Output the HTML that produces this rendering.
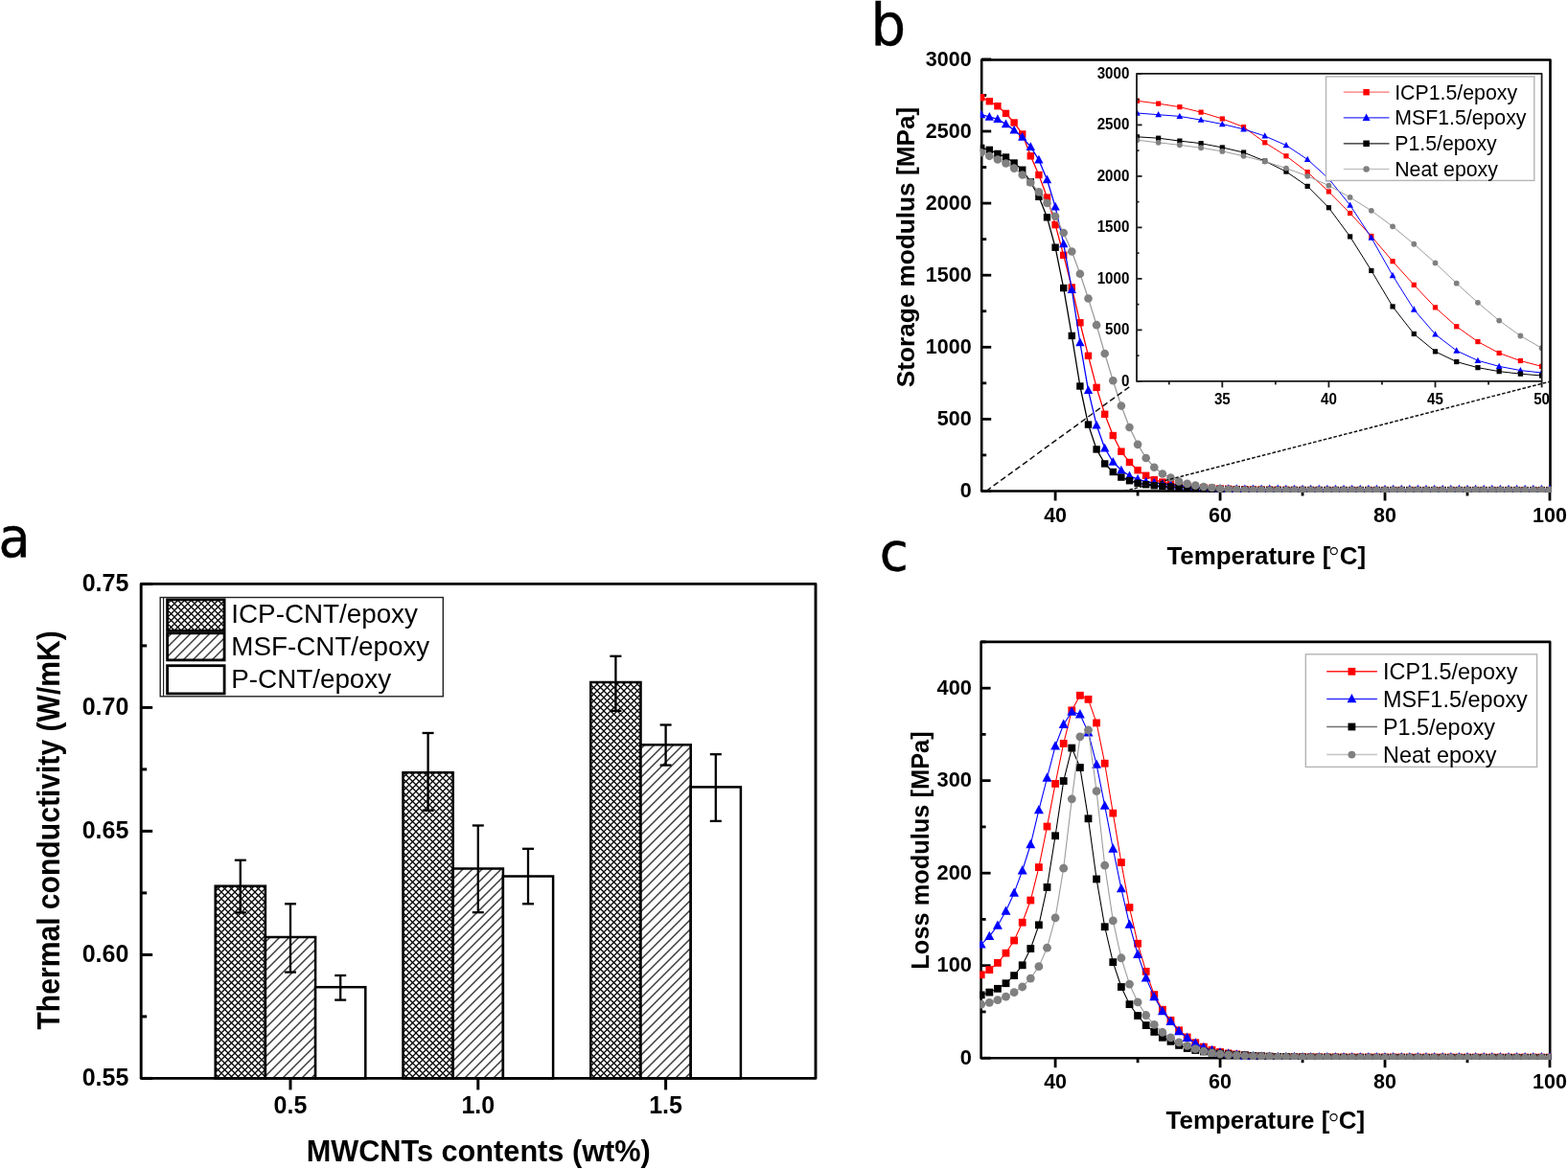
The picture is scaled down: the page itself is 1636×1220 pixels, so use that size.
<!DOCTYPE html><html><head><meta charset="utf-8"><title>Figure</title>
<style>html,body{margin:0;padding:0;background:#fff;}svg{display:block;}text{font-family:"Liberation Sans",Arial,sans-serif;}</style></head><body>
<svg width="1636" height="1220" viewBox="0 0 1636 1220">
<defs>
<pattern id="xh" patternUnits="userSpaceOnUse" width="7" height="7"><rect width="7" height="7" fill="#fff"/><path d="M-1,8 L8,-1 M-1,1 L1,-1 M6,8 L8,6" stroke="#000" stroke-width="1.25"/><path d="M-1,-1 L8,8 M-1,6 L1,8 M6,-1 L8,1" stroke="#000" stroke-width="1.25"/></pattern>
<pattern id="dh" patternUnits="userSpaceOnUse" width="10" height="10"><rect width="10" height="10" fill="#fff"/><path d="M-1,11 L11,-1 M-1,1 L1,-1 M9,11 L11,9" stroke="#3a3a3a" stroke-width="1.45"/></pattern>
<clipPath id="cpb"><rect x="1022.8" y="0" width="596.1" height="513.9"/></clipPath>
<clipPath id="cpi"><rect x="1185.1" y="60" width="423.5" height="338.8"/></clipPath>
<clipPath id="cpc"><rect x="1022.2" y="600" width="596.4" height="506"/></clipPath>
</defs>
<rect width="1636" height="1220" fill="#fff"/>
<text x="0" y="0" font-size="57.6" font-weight="normal" fill="#000" stroke="#000" stroke-width="0.5" transform="translate(-1.6,581.4) scale(0.94,1)" style="font-family:'DejaVu Sans',sans-serif">a</text>
<rect x="224.7" y="924.7" width="52.2" height="200.7" fill="url(#xh)" stroke="#000" stroke-width="2.5"/>
<rect x="276.9" y="978" width="52.2" height="147.4" fill="url(#dh)" stroke="#000" stroke-width="2.5"/>
<rect x="329.1" y="1030.2" width="52.2" height="95.2" fill="#fff" stroke="#000" stroke-width="2.5"/>
<rect x="420.5" y="806.2" width="52.2" height="319.2" fill="url(#xh)" stroke="#000" stroke-width="2.5"/>
<rect x="472.7" y="906.5" width="52.2" height="218.9" fill="url(#dh)" stroke="#000" stroke-width="2.5"/>
<rect x="524.9" y="914.5" width="52.2" height="210.9" fill="#fff" stroke="#000" stroke-width="2.5"/>
<rect x="616.3" y="712" width="52.2" height="413.4" fill="url(#xh)" stroke="#000" stroke-width="2.5"/>
<rect x="668.5" y="777.3" width="52.2" height="348.1" fill="url(#dh)" stroke="#000" stroke-width="2.5"/>
<rect x="720.7" y="821.4" width="52.2" height="304" fill="#fff" stroke="#000" stroke-width="2.5"/>
<line x1="250.8" y1="897.7" x2="250.8" y2="952.4" stroke="#000" stroke-width="2.3" />
<line x1="244.8" y1="897.7" x2="256.8" y2="897.7" stroke="#000" stroke-width="2.3" />
<line x1="244.8" y1="952.4" x2="256.8" y2="952.4" stroke="#000" stroke-width="2.3" />
<line x1="303" y1="943.3" x2="303" y2="1014.6" stroke="#000" stroke-width="2.3" />
<line x1="297" y1="943.3" x2="309" y2="943.3" stroke="#000" stroke-width="2.3" />
<line x1="297" y1="1014.6" x2="309" y2="1014.6" stroke="#000" stroke-width="2.3" />
<line x1="355.2" y1="1018" x2="355.2" y2="1043.6" stroke="#000" stroke-width="2.3" />
<line x1="349.2" y1="1018" x2="361.2" y2="1018" stroke="#000" stroke-width="2.3" />
<line x1="349.2" y1="1043.6" x2="361.2" y2="1043.6" stroke="#000" stroke-width="2.3" />
<line x1="446.6" y1="765" x2="446.6" y2="845.8" stroke="#000" stroke-width="2.3" />
<line x1="440.6" y1="765" x2="452.6" y2="765" stroke="#000" stroke-width="2.3" />
<line x1="440.6" y1="845.8" x2="452.6" y2="845.8" stroke="#000" stroke-width="2.3" />
<line x1="498.8" y1="861.5" x2="498.8" y2="952.2" stroke="#000" stroke-width="2.3" />
<line x1="492.8" y1="861.5" x2="504.8" y2="861.5" stroke="#000" stroke-width="2.3" />
<line x1="492.8" y1="952.2" x2="504.8" y2="952.2" stroke="#000" stroke-width="2.3" />
<line x1="551" y1="885.8" x2="551" y2="943.3" stroke="#000" stroke-width="2.3" />
<line x1="545" y1="885.8" x2="557" y2="885.8" stroke="#000" stroke-width="2.3" />
<line x1="545" y1="943.3" x2="557" y2="943.3" stroke="#000" stroke-width="2.3" />
<line x1="642.4" y1="684.8" x2="642.4" y2="741.9" stroke="#000" stroke-width="2.3" />
<line x1="636.4" y1="684.8" x2="648.4" y2="684.8" stroke="#000" stroke-width="2.3" />
<line x1="636.4" y1="741.9" x2="648.4" y2="741.9" stroke="#000" stroke-width="2.3" />
<line x1="694.6" y1="756.5" x2="694.6" y2="798.6" stroke="#000" stroke-width="2.3" />
<line x1="688.6" y1="756.5" x2="700.6" y2="756.5" stroke="#000" stroke-width="2.3" />
<line x1="688.6" y1="798.6" x2="700.6" y2="798.6" stroke="#000" stroke-width="2.3" />
<line x1="746.8" y1="787.2" x2="746.8" y2="856.9" stroke="#000" stroke-width="2.3" />
<line x1="740.8" y1="787.2" x2="752.8" y2="787.2" stroke="#000" stroke-width="2.3" />
<line x1="740.8" y1="856.9" x2="752.8" y2="856.9" stroke="#000" stroke-width="2.3" />
<rect x="147.2" y="609.4" width="703.8" height="516" fill="none" stroke="#000" stroke-width="2.9" stroke-linejoin="round"/>
<line x1="147.2" y1="1125.4" x2="159.2" y2="1125.4" stroke="#000" stroke-width="3" />
<text x="134.3" y="1133" font-size="25" font-weight="bold" text-anchor="end" fill="#000" >0.55</text>
<line x1="147.2" y1="996.4" x2="159.2" y2="996.4" stroke="#000" stroke-width="3" />
<text x="134.3" y="1004" font-size="25" font-weight="bold" text-anchor="end" fill="#000" >0.60</text>
<line x1="147.2" y1="867.4" x2="159.2" y2="867.4" stroke="#000" stroke-width="3" />
<text x="134.3" y="875" font-size="25" font-weight="bold" text-anchor="end" fill="#000" >0.65</text>
<line x1="147.2" y1="738.4" x2="159.2" y2="738.4" stroke="#000" stroke-width="3" />
<text x="134.3" y="746" font-size="25" font-weight="bold" text-anchor="end" fill="#000" >0.70</text>
<line x1="147.2" y1="609.4" x2="159.2" y2="609.4" stroke="#000" stroke-width="3" />
<text x="134.3" y="617" font-size="25" font-weight="bold" text-anchor="end" fill="#000" >0.75</text>
<line x1="147.2" y1="1060.9" x2="153.2" y2="1060.9" stroke="#000" stroke-width="3" />
<line x1="147.2" y1="931.9" x2="153.2" y2="931.9" stroke="#000" stroke-width="3" />
<line x1="147.2" y1="802.9" x2="153.2" y2="802.9" stroke="#000" stroke-width="3" />
<line x1="147.2" y1="673.9" x2="153.2" y2="673.9" stroke="#000" stroke-width="3" />
<line x1="303" y1="1125.4" x2="303" y2="1137.4" stroke="#000" stroke-width="3" />
<text x="303" y="1162.2" font-size="25" font-weight="bold" text-anchor="middle" fill="#000" >0.5</text>
<line x1="498.8" y1="1125.4" x2="498.8" y2="1137.4" stroke="#000" stroke-width="3" />
<text x="498.8" y="1162.2" font-size="25" font-weight="bold" text-anchor="middle" fill="#000" >1.0</text>
<line x1="694.6" y1="1125.4" x2="694.6" y2="1137.4" stroke="#000" stroke-width="3" />
<text x="694.6" y="1162.2" font-size="25" font-weight="bold" text-anchor="middle" fill="#000" >1.5</text>
<text x="499.2" y="1212.2" font-size="30.7" font-weight="bold" text-anchor="middle" fill="#000" >MWCNTs contents (wt%)</text>
<text x="0" y="0" font-size="32.5" font-weight="bold" text-anchor="middle" textLength="416.4" lengthAdjust="spacingAndGlyphs" transform="translate(61.6,866.4) rotate(-90)">Thermal conductivity (W/mK)</text>
<rect x="167.2" y="623.5" width="295.1" height="103.3" fill="#fff" stroke="#222" stroke-width="1.4"/>
<line x1="170.6" y1="624" x2="170.6" y2="726.5" stroke="#222" stroke-width="1.2" />
<rect x="174.6" y="625.8" width="59.5" height="32.5" fill="url(#xh)" stroke="#000" stroke-width="2.8"/>
<rect x="174.6" y="660.8" width="59.5" height="28.1" fill="url(#dh)" stroke="#000" stroke-width="2.8"/>
<rect x="174.6" y="694.7" width="59.5" height="29.2" fill="#fff" stroke="#000" stroke-width="2.8"/>
<text x="241.3" y="650" font-size="27.8" font-weight="normal" text-anchor="start" fill="#000" >ICP-CNT/epoxy</text>
<text x="241.3" y="683.5" font-size="27.8" font-weight="normal" text-anchor="start" fill="#000" >MSF-CNT/epoxy</text>
<text x="241.3" y="718.3" font-size="27.8" font-weight="normal" text-anchor="start" fill="#000" >P-CNT/epoxy</text>
<text x="0" y="0" font-size="61" font-weight="normal" fill="#000" stroke="#000" stroke-width="0.5" transform="translate(908.6,47.0) scale(0.945,1)" style="font-family:'DejaVu Sans',sans-serif">b</text>
<rect x="1024.2" y="62.5" width="593.3" height="450" fill="none" stroke="#000" stroke-width="2.6" stroke-linejoin="round"/>
<line x1="1024.2" y1="512.5" x2="1034.2" y2="512.5" stroke="#000" stroke-width="2.8" />
<text x="1013.7" y="519.1" font-size="21.5" font-weight="bold" text-anchor="end" fill="#000" >0</text>
<line x1="1024.2" y1="437.4" x2="1034.2" y2="437.4" stroke="#000" stroke-width="2.8" />
<text x="1013.7" y="444" font-size="21.5" font-weight="bold" text-anchor="end" fill="#000" >500</text>
<line x1="1024.2" y1="362.3" x2="1034.2" y2="362.3" stroke="#000" stroke-width="2.8" />
<text x="1013.7" y="368.9" font-size="21.5" font-weight="bold" text-anchor="end" fill="#000" >1000</text>
<line x1="1024.2" y1="287.2" x2="1034.2" y2="287.2" stroke="#000" stroke-width="2.8" />
<text x="1013.7" y="293.8" font-size="21.5" font-weight="bold" text-anchor="end" fill="#000" >1500</text>
<line x1="1024.2" y1="212.1" x2="1034.2" y2="212.1" stroke="#000" stroke-width="2.8" />
<text x="1013.7" y="218.7" font-size="21.5" font-weight="bold" text-anchor="end" fill="#000" >2000</text>
<line x1="1024.2" y1="137" x2="1034.2" y2="137" stroke="#000" stroke-width="2.8" />
<text x="1013.7" y="143.6" font-size="21.5" font-weight="bold" text-anchor="end" fill="#000" >2500</text>
<line x1="1024.2" y1="61.9" x2="1034.2" y2="61.9" stroke="#000" stroke-width="2.8" />
<text x="1013.7" y="68.5" font-size="21.5" font-weight="bold" text-anchor="end" fill="#000" >3000</text>
<line x1="1024.2" y1="474.95" x2="1029.2" y2="474.95" stroke="#000" stroke-width="2.8" />
<line x1="1024.2" y1="399.85" x2="1029.2" y2="399.85" stroke="#000" stroke-width="2.8" />
<line x1="1024.2" y1="324.75" x2="1029.2" y2="324.75" stroke="#000" stroke-width="2.8" />
<line x1="1024.2" y1="249.65" x2="1029.2" y2="249.65" stroke="#000" stroke-width="2.8" />
<line x1="1024.2" y1="174.55" x2="1029.2" y2="174.55" stroke="#000" stroke-width="2.8" />
<line x1="1024.2" y1="99.45" x2="1029.2" y2="99.45" stroke="#000" stroke-width="2.8" />
<line x1="1101.1" y1="512.5" x2="1101.1" y2="522.5" stroke="#000" stroke-width="2.8" />
<text x="1101.1" y="545.2" font-size="21.5" font-weight="bold" text-anchor="middle" fill="#000" >40</text>
<line x1="1273.06" y1="512.5" x2="1273.06" y2="522.5" stroke="#000" stroke-width="2.8" />
<text x="1273.06" y="545.2" font-size="21.5" font-weight="bold" text-anchor="middle" fill="#000" >60</text>
<line x1="1445.02" y1="512.5" x2="1445.02" y2="522.5" stroke="#000" stroke-width="2.8" />
<text x="1445.02" y="545.2" font-size="21.5" font-weight="bold" text-anchor="middle" fill="#000" >80</text>
<line x1="1616.98" y1="512.5" x2="1616.98" y2="522.5" stroke="#000" stroke-width="2.8" />
<text x="1616.98" y="545.2" font-size="21.5" font-weight="bold" text-anchor="middle" fill="#000" >100</text>
<line x1="1187.08" y1="512.5" x2="1187.08" y2="517.5" stroke="#000" stroke-width="2.8" />
<line x1="1359.04" y1="512.5" x2="1359.04" y2="517.5" stroke="#000" stroke-width="2.8" />
<line x1="1531" y1="512.5" x2="1531" y2="517.5" stroke="#000" stroke-width="2.8" />
<g clip-path="url(#cpb)">
<polyline points="1023.72,101.7 1032.32,105.76 1040.91,110.71 1049.51,118.38 1058.11,127.99 1066.71,140 1075.31,162.83 1083.9,182.51 1092.5,206.09 1101.1,234.63 1109.7,266.32 1118.3,299.97 1126.89,336.77 1135.49,371.31 1144.09,404.36 1152.69,432.29 1161.29,454.52 1169.88,471.19 1178.48,482.46 1187.08,490.72 1195.68,496.28 1204.28,500.63 1212.87,503.04 1221.47,504.84 1230.07,506.19 1238.67,507.09 1247.27,507.99 1255.86,508.75 1264.46,509.35 1273.06,509.8 1281.66,510.27 1290.26,510.61 1298.85,510.85 1307.45,511.03 1316.05,511.16 1324.65,511.25 1333.25,511.31 1341.84,511.36 1350.44,511.4 1359.04,511.43 1367.64,511.45 1376.24,511.46 1384.83,511.48 1393.43,511.49 1402.03,511.49 1410.63,511.5 1419.23,511.51 1427.82,511.51 1436.42,511.52 1445.02,511.52 1453.62,511.53 1462.22,511.53 1470.81,511.53 1479.41,511.54 1488.01,511.54 1496.61,511.55 1505.21,511.55 1513.8,511.55 1522.4,511.56 1531,511.56 1539.6,511.56 1548.2,511.57 1556.79,511.57 1565.39,511.58 1573.99,511.58 1582.59,511.58 1591.19,511.59 1599.78,511.59 1608.38,511.6 1616.98,511.6" fill="none" stroke="#ff0000" stroke-width="1.3" stroke-linejoin="round"/>
<rect x="1020.02" y="98" width="7.4" height="7.4" fill="#ff0000"/>
<rect x="1028.62" y="102.06" width="7.4" height="7.4" fill="#ff0000"/>
<rect x="1037.21" y="107.01" width="7.4" height="7.4" fill="#ff0000"/>
<rect x="1045.81" y="114.68" width="7.4" height="7.4" fill="#ff0000"/>
<rect x="1054.41" y="124.29" width="7.4" height="7.4" fill="#ff0000"/>
<rect x="1063.01" y="136.3" width="7.4" height="7.4" fill="#ff0000"/>
<rect x="1071.61" y="159.13" width="7.4" height="7.4" fill="#ff0000"/>
<rect x="1080.2" y="178.81" width="7.4" height="7.4" fill="#ff0000"/>
<rect x="1088.8" y="202.39" width="7.4" height="7.4" fill="#ff0000"/>
<rect x="1097.4" y="230.93" width="7.4" height="7.4" fill="#ff0000"/>
<rect x="1106" y="262.62" width="7.4" height="7.4" fill="#ff0000"/>
<rect x="1114.6" y="296.27" width="7.4" height="7.4" fill="#ff0000"/>
<rect x="1123.19" y="333.07" width="7.4" height="7.4" fill="#ff0000"/>
<rect x="1131.79" y="367.61" width="7.4" height="7.4" fill="#ff0000"/>
<rect x="1140.39" y="400.66" width="7.4" height="7.4" fill="#ff0000"/>
<rect x="1148.99" y="428.59" width="7.4" height="7.4" fill="#ff0000"/>
<rect x="1157.59" y="450.82" width="7.4" height="7.4" fill="#ff0000"/>
<rect x="1166.18" y="467.5" width="7.4" height="7.4" fill="#ff0000"/>
<rect x="1174.78" y="478.76" width="7.4" height="7.4" fill="#ff0000"/>
<rect x="1183.38" y="487.02" width="7.4" height="7.4" fill="#ff0000"/>
<rect x="1191.98" y="492.58" width="7.4" height="7.4" fill="#ff0000"/>
<rect x="1200.58" y="496.93" width="7.4" height="7.4" fill="#ff0000"/>
<rect x="1209.17" y="499.34" width="7.4" height="7.4" fill="#ff0000"/>
<rect x="1217.77" y="501.14" width="7.4" height="7.4" fill="#ff0000"/>
<rect x="1226.37" y="502.49" width="7.4" height="7.4" fill="#ff0000"/>
<rect x="1234.97" y="503.39" width="7.4" height="7.4" fill="#ff0000"/>
<rect x="1243.57" y="504.29" width="7.4" height="7.4" fill="#ff0000"/>
<rect x="1252.16" y="505.05" width="7.4" height="7.4" fill="#ff0000"/>
<rect x="1260.76" y="505.65" width="7.4" height="7.4" fill="#ff0000"/>
<rect x="1269.36" y="506.1" width="7.4" height="7.4" fill="#ff0000"/>
<rect x="1277.96" y="506.57" width="7.4" height="7.4" fill="#ff0000"/>
<rect x="1286.56" y="506.91" width="7.4" height="7.4" fill="#ff0000"/>
<rect x="1295.15" y="507.15" width="7.4" height="7.4" fill="#ff0000"/>
<rect x="1303.75" y="507.33" width="7.4" height="7.4" fill="#ff0000"/>
<rect x="1312.35" y="507.46" width="7.4" height="7.4" fill="#ff0000"/>
<rect x="1320.95" y="507.55" width="7.4" height="7.4" fill="#ff0000"/>
<rect x="1329.55" y="507.61" width="7.4" height="7.4" fill="#ff0000"/>
<rect x="1338.14" y="507.66" width="7.4" height="7.4" fill="#ff0000"/>
<rect x="1346.74" y="507.7" width="7.4" height="7.4" fill="#ff0000"/>
<rect x="1355.34" y="507.73" width="7.4" height="7.4" fill="#ff0000"/>
<rect x="1363.94" y="507.75" width="7.4" height="7.4" fill="#ff0000"/>
<rect x="1372.54" y="507.76" width="7.4" height="7.4" fill="#ff0000"/>
<rect x="1381.13" y="507.78" width="7.4" height="7.4" fill="#ff0000"/>
<rect x="1389.73" y="507.79" width="7.4" height="7.4" fill="#ff0000"/>
<rect x="1398.33" y="507.79" width="7.4" height="7.4" fill="#ff0000"/>
<rect x="1406.93" y="507.8" width="7.4" height="7.4" fill="#ff0000"/>
<rect x="1415.53" y="507.81" width="7.4" height="7.4" fill="#ff0000"/>
<rect x="1424.12" y="507.81" width="7.4" height="7.4" fill="#ff0000"/>
<rect x="1432.72" y="507.82" width="7.4" height="7.4" fill="#ff0000"/>
<rect x="1441.32" y="507.82" width="7.4" height="7.4" fill="#ff0000"/>
<rect x="1449.92" y="507.83" width="7.4" height="7.4" fill="#ff0000"/>
<rect x="1458.52" y="507.83" width="7.4" height="7.4" fill="#ff0000"/>
<rect x="1467.11" y="507.83" width="7.4" height="7.4" fill="#ff0000"/>
<rect x="1475.71" y="507.84" width="7.4" height="7.4" fill="#ff0000"/>
<rect x="1484.31" y="507.84" width="7.4" height="7.4" fill="#ff0000"/>
<rect x="1492.91" y="507.85" width="7.4" height="7.4" fill="#ff0000"/>
<rect x="1501.51" y="507.85" width="7.4" height="7.4" fill="#ff0000"/>
<rect x="1510.1" y="507.85" width="7.4" height="7.4" fill="#ff0000"/>
<rect x="1518.7" y="507.86" width="7.4" height="7.4" fill="#ff0000"/>
<rect x="1527.3" y="507.86" width="7.4" height="7.4" fill="#ff0000"/>
<rect x="1535.9" y="507.86" width="7.4" height="7.4" fill="#ff0000"/>
<rect x="1544.5" y="507.87" width="7.4" height="7.4" fill="#ff0000"/>
<rect x="1553.09" y="507.87" width="7.4" height="7.4" fill="#ff0000"/>
<rect x="1561.69" y="507.88" width="7.4" height="7.4" fill="#ff0000"/>
<rect x="1570.29" y="507.88" width="7.4" height="7.4" fill="#ff0000"/>
<rect x="1578.89" y="507.88" width="7.4" height="7.4" fill="#ff0000"/>
<rect x="1587.49" y="507.89" width="7.4" height="7.4" fill="#ff0000"/>
<rect x="1596.08" y="507.89" width="7.4" height="7.4" fill="#ff0000"/>
<rect x="1604.68" y="507.9" width="7.4" height="7.4" fill="#ff0000"/>
<rect x="1613.28" y="507.9" width="7.4" height="7.4" fill="#ff0000"/>
<polyline points="1023.72,119.58 1032.32,121.98 1040.91,124.38 1049.51,129.64 1058.11,135.8 1066.71,143.16 1075.31,153.22 1083.9,166.89 1092.5,187.47 1101.1,215.86 1109.7,254.46 1118.3,302.22 1126.89,357.49 1135.49,407.36 1144.09,443.71 1152.69,467.74 1161.29,482.16 1169.88,490.72 1178.48,496.58 1187.08,500.03 1195.68,502.74 1204.28,503.94 1212.87,505.14 1221.47,506.04 1230.07,506.79 1238.67,507.69 1247.27,508.44 1255.86,509.2 1264.46,509.8 1273.06,510.17 1281.66,510.32 1290.26,510.44 1298.85,510.52 1307.45,510.57 1316.05,510.62 1324.65,510.65 1333.25,510.67 1341.84,510.69 1350.44,510.71 1359.04,510.72 1367.64,510.73 1376.24,510.73 1384.83,510.74 1393.43,510.75 1402.03,510.75 1410.63,510.76 1419.23,510.76 1427.82,510.76 1436.42,510.77 1445.02,510.77 1453.62,510.78 1462.22,510.78 1470.81,510.78 1479.41,510.79 1488.01,510.79 1496.61,510.8 1505.21,510.8 1513.8,510.8 1522.4,510.81 1531,510.81 1539.6,510.81 1548.2,510.82 1556.79,510.82 1565.39,510.83 1573.99,510.83 1582.59,510.83 1591.19,510.84 1599.78,510.84 1608.38,510.84 1616.98,510.85" fill="none" stroke="#0000ff" stroke-width="1.3" stroke-linejoin="round"/>
<polygon points="1023.72,114.51 1019.07,123.25 1028.36,123.25" fill="#0000ff"/>
<polygon points="1032.32,116.91 1027.67,125.66 1036.96,125.66" fill="#0000ff"/>
<polygon points="1040.91,119.32 1036.27,128.06 1045.56,128.06" fill="#0000ff"/>
<polygon points="1049.51,124.57 1044.87,133.32 1054.16,133.32" fill="#0000ff"/>
<polygon points="1058.11,130.73 1053.47,139.47 1062.75,139.47" fill="#0000ff"/>
<polygon points="1066.71,138.09 1062.06,146.83 1071.35,146.83" fill="#0000ff"/>
<polygon points="1075.31,148.16 1070.66,156.9 1079.95,156.9" fill="#0000ff"/>
<polygon points="1083.9,161.82 1079.26,170.57 1088.55,170.57" fill="#0000ff"/>
<polygon points="1092.5,182.4 1087.86,191.14 1097.15,191.14" fill="#0000ff"/>
<polygon points="1101.1,210.79 1096.46,219.53 1105.74,219.53" fill="#0000ff"/>
<polygon points="1109.7,249.39 1105.05,258.13 1114.34,258.13" fill="#0000ff"/>
<polygon points="1118.3,297.15 1113.65,305.9 1122.94,305.9" fill="#0000ff"/>
<polygon points="1126.89,352.43 1122.25,361.17 1131.54,361.17" fill="#0000ff"/>
<polygon points="1135.49,402.29 1130.85,411.04 1140.14,411.04" fill="#0000ff"/>
<polygon points="1144.09,438.64 1139.45,447.38 1148.73,447.38" fill="#0000ff"/>
<polygon points="1152.69,462.68 1148.04,471.42 1157.33,471.42" fill="#0000ff"/>
<polygon points="1161.29,477.09 1156.64,485.84 1165.93,485.84" fill="#0000ff"/>
<polygon points="1169.88,485.66 1165.24,494.4 1174.53,494.4" fill="#0000ff"/>
<polygon points="1178.48,491.51 1173.84,500.26 1183.13,500.26" fill="#0000ff"/>
<polygon points="1187.08,494.97 1182.44,503.71 1191.72,503.71" fill="#0000ff"/>
<polygon points="1195.68,497.67 1191.03,506.41 1200.32,506.41" fill="#0000ff"/>
<polygon points="1204.28,498.87 1199.63,507.62 1208.92,507.62" fill="#0000ff"/>
<polygon points="1212.87,500.07 1208.23,508.82 1217.52,508.82" fill="#0000ff"/>
<polygon points="1221.47,500.98 1216.83,509.72 1226.12,509.72" fill="#0000ff"/>
<polygon points="1230.07,501.73 1225.43,510.47 1234.71,510.47" fill="#0000ff"/>
<polygon points="1238.67,502.63 1234.02,511.37 1243.31,511.37" fill="#0000ff"/>
<polygon points="1247.27,503.38 1242.62,512.12 1251.91,512.12" fill="#0000ff"/>
<polygon points="1255.86,504.13 1251.22,512.87 1260.51,512.87" fill="#0000ff"/>
<polygon points="1264.46,504.73 1259.82,513.47 1269.11,513.47" fill="#0000ff"/>
<polygon points="1273.06,505.11 1268.42,513.85 1277.7,513.85" fill="#0000ff"/>
<polygon points="1281.66,505.26 1277.01,514 1286.3,514" fill="#0000ff"/>
<polygon points="1290.26,505.37 1285.61,514.11 1294.9,514.11" fill="#0000ff"/>
<polygon points="1298.85,505.45 1294.21,514.19 1303.5,514.19" fill="#0000ff"/>
<polygon points="1307.45,505.51 1302.81,514.25 1312.1,514.25" fill="#0000ff"/>
<polygon points="1316.05,505.55 1311.41,514.29 1320.69,514.29" fill="#0000ff"/>
<polygon points="1324.65,505.58 1320,514.33 1329.29,514.33" fill="#0000ff"/>
<polygon points="1333.25,505.61 1328.6,514.35 1337.89,514.35" fill="#0000ff"/>
<polygon points="1341.84,505.63 1337.2,514.37 1346.49,514.37" fill="#0000ff"/>
<polygon points="1350.44,505.64 1345.8,514.38 1355.09,514.38" fill="#0000ff"/>
<polygon points="1359.04,505.65 1354.4,514.39 1363.68,514.39" fill="#0000ff"/>
<polygon points="1367.64,505.66 1362.99,514.4 1372.28,514.4" fill="#0000ff"/>
<polygon points="1376.24,505.67 1371.59,514.41 1380.88,514.41" fill="#0000ff"/>
<polygon points="1384.83,505.67 1380.19,514.42 1389.48,514.42" fill="#0000ff"/>
<polygon points="1393.43,505.68 1388.79,514.42 1398.08,514.42" fill="#0000ff"/>
<polygon points="1402.03,505.68 1397.39,514.43 1406.67,514.43" fill="#0000ff"/>
<polygon points="1410.63,505.69 1405.98,514.43 1415.27,514.43" fill="#0000ff"/>
<polygon points="1419.23,505.69 1414.58,514.44 1423.87,514.44" fill="#0000ff"/>
<polygon points="1427.82,505.7 1423.18,514.44 1432.47,514.44" fill="#0000ff"/>
<polygon points="1436.42,505.7 1431.78,514.44 1441.07,514.44" fill="#0000ff"/>
<polygon points="1445.02,505.71 1440.38,514.45 1449.66,514.45" fill="#0000ff"/>
<polygon points="1453.62,505.71 1448.97,514.45 1458.26,514.45" fill="#0000ff"/>
<polygon points="1462.22,505.71 1457.57,514.46 1466.86,514.46" fill="#0000ff"/>
<polygon points="1470.81,505.72 1466.17,514.46 1475.46,514.46" fill="#0000ff"/>
<polygon points="1479.41,505.72 1474.77,514.46 1484.06,514.46" fill="#0000ff"/>
<polygon points="1488.01,505.73 1483.37,514.47 1492.65,514.47" fill="#0000ff"/>
<polygon points="1496.61,505.73 1491.96,514.47 1501.25,514.47" fill="#0000ff"/>
<polygon points="1505.21,505.73 1500.56,514.48 1509.85,514.48" fill="#0000ff"/>
<polygon points="1513.8,505.74 1509.16,514.48 1518.45,514.48" fill="#0000ff"/>
<polygon points="1522.4,505.74 1517.76,514.48 1527.05,514.48" fill="#0000ff"/>
<polygon points="1531,505.74 1526.36,514.49 1535.64,514.49" fill="#0000ff"/>
<polygon points="1539.6,505.75 1534.95,514.49 1544.24,514.49" fill="#0000ff"/>
<polygon points="1548.2,505.75 1543.55,514.49 1552.84,514.49" fill="#0000ff"/>
<polygon points="1556.79,505.76 1552.15,514.5 1561.44,514.5" fill="#0000ff"/>
<polygon points="1565.39,505.76 1560.75,514.5 1570.04,514.5" fill="#0000ff"/>
<polygon points="1573.99,505.76 1569.35,514.51 1578.63,514.51" fill="#0000ff"/>
<polygon points="1582.59,505.77 1577.94,514.51 1587.23,514.51" fill="#0000ff"/>
<polygon points="1591.19,505.77 1586.54,514.51 1595.83,514.51" fill="#0000ff"/>
<polygon points="1599.78,505.77 1595.14,514.52 1604.43,514.52" fill="#0000ff"/>
<polygon points="1608.38,505.78 1603.74,514.52 1613.03,514.52" fill="#0000ff"/>
<polygon points="1616.98,505.78 1612.34,514.52 1621.62,514.52" fill="#0000ff"/>
<polyline points="1023.72,154.42 1032.32,156.38 1040.91,160.43 1049.51,164.04 1058.11,170.04 1066.71,177.25 1075.31,189.87 1083.9,205.34 1092.5,226.82 1101.1,258.21 1109.7,300.57 1118.3,350.43 1126.89,403 1135.49,443.11 1144.09,468.94 1152.69,483.96 1161.29,492.52 1169.88,498.08 1178.48,501.69 1187.08,504.24 1195.68,505.74 1204.28,506.79 1212.87,507.54 1221.47,507.99 1230.07,508.29 1238.67,508.9 1247.27,509.5 1255.86,509.95 1264.46,510.4 1273.06,510.7 1281.66,510.96 1290.26,511.14 1298.85,511.28 1307.45,511.38 1316.05,511.45 1324.65,511.5 1333.25,511.54 1341.84,511.57 1350.44,511.59 1359.04,511.6 1367.64,511.62 1376.24,511.63 1384.83,511.64 1393.43,511.64 1402.03,511.65 1410.63,511.65 1419.23,511.66 1427.82,511.66 1436.42,511.67 1445.02,511.67 1453.62,511.68 1462.22,511.68 1470.81,511.68 1479.41,511.69 1488.01,511.69 1496.61,511.7 1505.21,511.7 1513.8,511.7 1522.4,511.71 1531,511.71 1539.6,511.72 1548.2,511.72 1556.79,511.72 1565.39,511.73 1573.99,511.73 1582.59,511.73 1591.19,511.74 1599.78,511.74 1608.38,511.75 1616.98,511.75" fill="none" stroke="#000000" stroke-width="1.3" stroke-linejoin="round"/>
<rect x="1020.02" y="150.72" width="7.4" height="7.4" fill="#000000"/>
<rect x="1028.62" y="152.68" width="7.4" height="7.4" fill="#000000"/>
<rect x="1037.21" y="156.73" width="7.4" height="7.4" fill="#000000"/>
<rect x="1045.81" y="160.34" width="7.4" height="7.4" fill="#000000"/>
<rect x="1054.41" y="166.34" width="7.4" height="7.4" fill="#000000"/>
<rect x="1063.01" y="173.55" width="7.4" height="7.4" fill="#000000"/>
<rect x="1071.61" y="186.17" width="7.4" height="7.4" fill="#000000"/>
<rect x="1080.2" y="201.64" width="7.4" height="7.4" fill="#000000"/>
<rect x="1088.8" y="223.12" width="7.4" height="7.4" fill="#000000"/>
<rect x="1097.4" y="254.51" width="7.4" height="7.4" fill="#000000"/>
<rect x="1106" y="296.87" width="7.4" height="7.4" fill="#000000"/>
<rect x="1114.6" y="346.73" width="7.4" height="7.4" fill="#000000"/>
<rect x="1123.19" y="399.3" width="7.4" height="7.4" fill="#000000"/>
<rect x="1131.79" y="439.41" width="7.4" height="7.4" fill="#000000"/>
<rect x="1140.39" y="465.24" width="7.4" height="7.4" fill="#000000"/>
<rect x="1148.99" y="480.26" width="7.4" height="7.4" fill="#000000"/>
<rect x="1157.59" y="488.82" width="7.4" height="7.4" fill="#000000"/>
<rect x="1166.18" y="494.38" width="7.4" height="7.4" fill="#000000"/>
<rect x="1174.78" y="497.99" width="7.4" height="7.4" fill="#000000"/>
<rect x="1183.38" y="500.54" width="7.4" height="7.4" fill="#000000"/>
<rect x="1191.98" y="502.04" width="7.4" height="7.4" fill="#000000"/>
<rect x="1200.58" y="503.09" width="7.4" height="7.4" fill="#000000"/>
<rect x="1209.17" y="503.84" width="7.4" height="7.4" fill="#000000"/>
<rect x="1217.77" y="504.29" width="7.4" height="7.4" fill="#000000"/>
<rect x="1226.37" y="504.59" width="7.4" height="7.4" fill="#000000"/>
<rect x="1234.97" y="505.2" width="7.4" height="7.4" fill="#000000"/>
<rect x="1243.57" y="505.8" width="7.4" height="7.4" fill="#000000"/>
<rect x="1252.16" y="506.25" width="7.4" height="7.4" fill="#000000"/>
<rect x="1260.76" y="506.7" width="7.4" height="7.4" fill="#000000"/>
<rect x="1269.36" y="507" width="7.4" height="7.4" fill="#000000"/>
<rect x="1277.96" y="507.26" width="7.4" height="7.4" fill="#000000"/>
<rect x="1286.56" y="507.44" width="7.4" height="7.4" fill="#000000"/>
<rect x="1295.15" y="507.58" width="7.4" height="7.4" fill="#000000"/>
<rect x="1303.75" y="507.68" width="7.4" height="7.4" fill="#000000"/>
<rect x="1312.35" y="507.75" width="7.4" height="7.4" fill="#000000"/>
<rect x="1320.95" y="507.8" width="7.4" height="7.4" fill="#000000"/>
<rect x="1329.55" y="507.84" width="7.4" height="7.4" fill="#000000"/>
<rect x="1338.14" y="507.87" width="7.4" height="7.4" fill="#000000"/>
<rect x="1346.74" y="507.89" width="7.4" height="7.4" fill="#000000"/>
<rect x="1355.34" y="507.9" width="7.4" height="7.4" fill="#000000"/>
<rect x="1363.94" y="507.92" width="7.4" height="7.4" fill="#000000"/>
<rect x="1372.54" y="507.93" width="7.4" height="7.4" fill="#000000"/>
<rect x="1381.13" y="507.94" width="7.4" height="7.4" fill="#000000"/>
<rect x="1389.73" y="507.94" width="7.4" height="7.4" fill="#000000"/>
<rect x="1398.33" y="507.95" width="7.4" height="7.4" fill="#000000"/>
<rect x="1406.93" y="507.95" width="7.4" height="7.4" fill="#000000"/>
<rect x="1415.53" y="507.96" width="7.4" height="7.4" fill="#000000"/>
<rect x="1424.12" y="507.96" width="7.4" height="7.4" fill="#000000"/>
<rect x="1432.72" y="507.97" width="7.4" height="7.4" fill="#000000"/>
<rect x="1441.32" y="507.97" width="7.4" height="7.4" fill="#000000"/>
<rect x="1449.92" y="507.98" width="7.4" height="7.4" fill="#000000"/>
<rect x="1458.52" y="507.98" width="7.4" height="7.4" fill="#000000"/>
<rect x="1467.11" y="507.98" width="7.4" height="7.4" fill="#000000"/>
<rect x="1475.71" y="507.99" width="7.4" height="7.4" fill="#000000"/>
<rect x="1484.31" y="507.99" width="7.4" height="7.4" fill="#000000"/>
<rect x="1492.91" y="508" width="7.4" height="7.4" fill="#000000"/>
<rect x="1501.51" y="508" width="7.4" height="7.4" fill="#000000"/>
<rect x="1510.1" y="508" width="7.4" height="7.4" fill="#000000"/>
<rect x="1518.7" y="508.01" width="7.4" height="7.4" fill="#000000"/>
<rect x="1527.3" y="508.01" width="7.4" height="7.4" fill="#000000"/>
<rect x="1535.9" y="508.02" width="7.4" height="7.4" fill="#000000"/>
<rect x="1544.5" y="508.02" width="7.4" height="7.4" fill="#000000"/>
<rect x="1553.09" y="508.02" width="7.4" height="7.4" fill="#000000"/>
<rect x="1561.69" y="508.03" width="7.4" height="7.4" fill="#000000"/>
<rect x="1570.29" y="508.03" width="7.4" height="7.4" fill="#000000"/>
<rect x="1578.89" y="508.03" width="7.4" height="7.4" fill="#000000"/>
<rect x="1587.49" y="508.04" width="7.4" height="7.4" fill="#000000"/>
<rect x="1596.08" y="508.04" width="7.4" height="7.4" fill="#000000"/>
<rect x="1604.68" y="508.05" width="7.4" height="7.4" fill="#000000"/>
<rect x="1613.28" y="508.05" width="7.4" height="7.4" fill="#000000"/>
<polyline points="1023.72,159.23 1032.32,162.83 1040.91,166.44 1049.51,170.49 1058.11,175.6 1066.71,182.51 1075.31,190.47 1083.9,200.38 1092.5,211.95 1101.1,225.77 1109.7,243.04 1118.3,262.57 1126.89,285.7 1135.49,311.53 1144.09,339.17 1152.69,369.06 1161.29,397.3 1169.88,423.58 1178.48,445.96 1187.08,463.84 1195.68,477.95 1204.28,487.72 1212.87,494.48 1221.47,498.53 1230.07,502.44 1238.67,504.84 1247.27,506.64 1255.86,507.99 1264.46,509.05 1273.06,509.95 1281.66,510.7 1290.26,511.15 1298.85,511.45 1307.45,511.6 1316.05,511.64 1324.65,511.68 1333.25,511.7 1341.84,511.72 1350.44,511.73 1359.04,511.74 1367.64,511.75 1376.24,511.76 1384.83,511.76 1393.43,511.76 1402.03,511.77 1410.63,511.77 1419.23,511.77 1427.82,511.78 1436.42,511.78 1445.02,511.78 1453.62,511.78 1462.22,511.79 1470.81,511.79 1479.41,511.79 1488.01,511.79 1496.61,511.79 1505.21,511.8 1513.8,511.8 1522.4,511.8 1531,511.8 1539.6,511.81 1548.2,511.81 1556.79,511.81 1565.39,511.81 1573.99,511.81 1582.59,511.82 1591.19,511.82 1599.78,511.82 1608.38,511.82 1616.98,511.82" fill="none" stroke="#9c9c9c" stroke-width="1.3" stroke-linejoin="round"/>
<circle cx="1023.72" cy="159.23" r="4.3" fill="#808080"/>
<circle cx="1032.32" cy="162.83" r="4.3" fill="#808080"/>
<circle cx="1040.91" cy="166.44" r="4.3" fill="#808080"/>
<circle cx="1049.51" cy="170.49" r="4.3" fill="#808080"/>
<circle cx="1058.11" cy="175.6" r="4.3" fill="#808080"/>
<circle cx="1066.71" cy="182.51" r="4.3" fill="#808080"/>
<circle cx="1075.31" cy="190.47" r="4.3" fill="#808080"/>
<circle cx="1083.9" cy="200.38" r="4.3" fill="#808080"/>
<circle cx="1092.5" cy="211.95" r="4.3" fill="#808080"/>
<circle cx="1101.1" cy="225.77" r="4.3" fill="#808080"/>
<circle cx="1109.7" cy="243.04" r="4.3" fill="#808080"/>
<circle cx="1118.3" cy="262.57" r="4.3" fill="#808080"/>
<circle cx="1126.89" cy="285.7" r="4.3" fill="#808080"/>
<circle cx="1135.49" cy="311.53" r="4.3" fill="#808080"/>
<circle cx="1144.09" cy="339.17" r="4.3" fill="#808080"/>
<circle cx="1152.69" cy="369.06" r="4.3" fill="#808080"/>
<circle cx="1161.29" cy="397.3" r="4.3" fill="#808080"/>
<circle cx="1169.88" cy="423.58" r="4.3" fill="#808080"/>
<circle cx="1178.48" cy="445.96" r="4.3" fill="#808080"/>
<circle cx="1187.08" cy="463.84" r="4.3" fill="#808080"/>
<circle cx="1195.68" cy="477.95" r="4.3" fill="#808080"/>
<circle cx="1204.28" cy="487.72" r="4.3" fill="#808080"/>
<circle cx="1212.87" cy="494.48" r="4.3" fill="#808080"/>
<circle cx="1221.47" cy="498.53" r="4.3" fill="#808080"/>
<circle cx="1230.07" cy="502.44" r="4.3" fill="#808080"/>
<circle cx="1238.67" cy="504.84" r="4.3" fill="#808080"/>
<circle cx="1247.27" cy="506.64" r="4.3" fill="#808080"/>
<circle cx="1255.86" cy="507.99" r="4.3" fill="#808080"/>
<circle cx="1264.46" cy="509.05" r="4.3" fill="#808080"/>
<circle cx="1273.06" cy="509.95" r="4.3" fill="#808080"/>
<circle cx="1281.66" cy="510.7" r="4.3" fill="#808080"/>
<circle cx="1290.26" cy="511.15" r="4.3" fill="#808080"/>
<circle cx="1298.85" cy="511.45" r="4.3" fill="#808080"/>
<circle cx="1307.45" cy="511.6" r="4.3" fill="#808080"/>
<circle cx="1316.05" cy="511.64" r="4.3" fill="#808080"/>
<circle cx="1324.65" cy="511.68" r="4.3" fill="#808080"/>
<circle cx="1333.25" cy="511.7" r="4.3" fill="#808080"/>
<circle cx="1341.84" cy="511.72" r="4.3" fill="#808080"/>
<circle cx="1350.44" cy="511.73" r="4.3" fill="#808080"/>
<circle cx="1359.04" cy="511.74" r="4.3" fill="#808080"/>
<circle cx="1367.64" cy="511.75" r="4.3" fill="#808080"/>
<circle cx="1376.24" cy="511.76" r="4.3" fill="#808080"/>
<circle cx="1384.83" cy="511.76" r="4.3" fill="#808080"/>
<circle cx="1393.43" cy="511.76" r="4.3" fill="#808080"/>
<circle cx="1402.03" cy="511.77" r="4.3" fill="#808080"/>
<circle cx="1410.63" cy="511.77" r="4.3" fill="#808080"/>
<circle cx="1419.23" cy="511.77" r="4.3" fill="#808080"/>
<circle cx="1427.82" cy="511.78" r="4.3" fill="#808080"/>
<circle cx="1436.42" cy="511.78" r="4.3" fill="#808080"/>
<circle cx="1445.02" cy="511.78" r="4.3" fill="#808080"/>
<circle cx="1453.62" cy="511.78" r="4.3" fill="#808080"/>
<circle cx="1462.22" cy="511.79" r="4.3" fill="#808080"/>
<circle cx="1470.81" cy="511.79" r="4.3" fill="#808080"/>
<circle cx="1479.41" cy="511.79" r="4.3" fill="#808080"/>
<circle cx="1488.01" cy="511.79" r="4.3" fill="#808080"/>
<circle cx="1496.61" cy="511.79" r="4.3" fill="#808080"/>
<circle cx="1505.21" cy="511.8" r="4.3" fill="#808080"/>
<circle cx="1513.8" cy="511.8" r="4.3" fill="#808080"/>
<circle cx="1522.4" cy="511.8" r="4.3" fill="#808080"/>
<circle cx="1531" cy="511.8" r="4.3" fill="#808080"/>
<circle cx="1539.6" cy="511.81" r="4.3" fill="#808080"/>
<circle cx="1548.2" cy="511.81" r="4.3" fill="#808080"/>
<circle cx="1556.79" cy="511.81" r="4.3" fill="#808080"/>
<circle cx="1565.39" cy="511.81" r="4.3" fill="#808080"/>
<circle cx="1573.99" cy="511.81" r="4.3" fill="#808080"/>
<circle cx="1582.59" cy="511.82" r="4.3" fill="#808080"/>
<circle cx="1591.19" cy="511.82" r="4.3" fill="#808080"/>
<circle cx="1599.78" cy="511.82" r="4.3" fill="#808080"/>
<circle cx="1608.38" cy="511.82" r="4.3" fill="#808080"/>
<circle cx="1616.98" cy="511.82" r="4.3" fill="#808080"/>
</g>
<line x1="1029" y1="512.5" x2="1179.6" y2="402.8" stroke="#111" stroke-width="1.5" stroke-dasharray="6,3.4"/>
<line x1="1173" y1="512.5" x2="1617" y2="398.2" stroke="#111" stroke-width="1.5" stroke-dasharray="3.6,1.9"/>
<text x="1217.4" y="589.2" font-size="25.9" font-weight="bold">Temperature <tspan x="1379.7">[</tspan><tspan x="1384" y="592.7" font-weight="200" font-size="31" style="font-family:'DejaVu Sans',sans-serif">&#176;</tspan><tspan x="1397.8" y="589">C</tspan><tspan x="1416.5">]</tspan></text>
<text x="0" y="0" font-size="26.2" font-weight="bold" text-anchor="middle" transform="translate(954,258) rotate(-90)">Storage modulus [MPa]</text>
<rect x="1186.0" y="76.9" width="422.6" height="321" fill="#fff" stroke="none"/>
<g clip-path="url(#cpi)">
<polyline points="1186.42,105.25 1208.64,108.14 1230.86,111.67 1253.08,117.13 1275.3,123.98 1297.52,132.54 1319.74,148.8 1341.96,162.82 1364.18,179.62 1386.4,199.95 1408.62,222.53 1430.84,246.49 1453.06,272.71 1475.28,297.32 1497.5,320.86 1519.72,340.76 1541.94,356.6 1564.16,368.47 1586.38,376.5 1608.6,382.38" fill="none" stroke="#ff0000" stroke-width="1.0" stroke-linejoin="round"/>
<rect x="1183.82" y="102.66" width="5.2" height="5.2" fill="#ff0000"/>
<rect x="1206.04" y="105.54" width="5.2" height="5.2" fill="#ff0000"/>
<rect x="1228.26" y="109.07" width="5.2" height="5.2" fill="#ff0000"/>
<rect x="1250.48" y="114.53" width="5.2" height="5.2" fill="#ff0000"/>
<rect x="1272.7" y="121.38" width="5.2" height="5.2" fill="#ff0000"/>
<rect x="1294.92" y="129.94" width="5.2" height="5.2" fill="#ff0000"/>
<rect x="1317.14" y="146.2" width="5.2" height="5.2" fill="#ff0000"/>
<rect x="1339.36" y="160.22" width="5.2" height="5.2" fill="#ff0000"/>
<rect x="1361.58" y="177.02" width="5.2" height="5.2" fill="#ff0000"/>
<rect x="1383.8" y="197.35" width="5.2" height="5.2" fill="#ff0000"/>
<rect x="1406.02" y="219.93" width="5.2" height="5.2" fill="#ff0000"/>
<rect x="1428.24" y="243.89" width="5.2" height="5.2" fill="#ff0000"/>
<rect x="1450.46" y="270.11" width="5.2" height="5.2" fill="#ff0000"/>
<rect x="1472.68" y="294.72" width="5.2" height="5.2" fill="#ff0000"/>
<rect x="1494.9" y="318.26" width="5.2" height="5.2" fill="#ff0000"/>
<rect x="1517.12" y="338.16" width="5.2" height="5.2" fill="#ff0000"/>
<rect x="1539.34" y="354" width="5.2" height="5.2" fill="#ff0000"/>
<rect x="1561.56" y="365.87" width="5.2" height="5.2" fill="#ff0000"/>
<rect x="1583.78" y="373.9" width="5.2" height="5.2" fill="#ff0000"/>
<rect x="1606" y="379.78" width="5.2" height="5.2" fill="#ff0000"/>
<polyline points="1186.42,117.99 1208.64,119.7 1230.86,121.41 1253.08,125.16 1275.3,129.54 1297.52,134.79 1319.74,141.96 1341.96,151.69 1364.18,166.35 1386.4,186.57 1408.62,214.07 1430.84,248.1 1453.06,287.48 1475.28,323 1497.5,348.89 1519.72,366.01 1541.94,376.29 1564.16,382.38 1586.38,386.56 1608.6,389.02" fill="none" stroke="#0000ff" stroke-width="1.0" stroke-linejoin="round"/>
<polygon points="1186.42,114.34 1183.07,120.64 1189.77,120.64" fill="#0000ff"/>
<polygon points="1208.64,116.05 1205.29,122.35 1211.99,122.35" fill="#0000ff"/>
<polygon points="1230.86,117.76 1227.51,124.06 1234.21,124.06" fill="#0000ff"/>
<polygon points="1253.08,121.51 1249.73,127.81 1256.43,127.81" fill="#0000ff"/>
<polygon points="1275.3,125.89 1271.95,132.19 1278.65,132.19" fill="#0000ff"/>
<polygon points="1297.52,131.14 1294.17,137.44 1300.87,137.44" fill="#0000ff"/>
<polygon points="1319.74,138.3 1316.39,144.61 1323.09,144.61" fill="#0000ff"/>
<polygon points="1341.96,148.04 1338.61,154.34 1345.31,154.34" fill="#0000ff"/>
<polygon points="1364.18,162.7 1360.83,169 1367.53,169" fill="#0000ff"/>
<polygon points="1386.4,182.92 1383.05,189.23 1389.75,189.23" fill="#0000ff"/>
<polygon points="1408.62,210.42 1405.27,216.72 1411.97,216.72" fill="#0000ff"/>
<polygon points="1430.84,244.45 1427.49,250.75 1434.19,250.75" fill="#0000ff"/>
<polygon points="1453.06,283.82 1449.71,290.13 1456.41,290.13" fill="#0000ff"/>
<polygon points="1475.28,319.35 1471.93,325.65 1478.63,325.65" fill="#0000ff"/>
<polygon points="1497.5,345.24 1494.15,351.54 1500.85,351.54" fill="#0000ff"/>
<polygon points="1519.72,362.36 1516.37,368.66 1523.07,368.66" fill="#0000ff"/>
<polygon points="1541.94,372.63 1538.59,378.94 1545.29,378.94" fill="#0000ff"/>
<polygon points="1564.16,378.73 1560.81,385.04 1567.51,385.04" fill="#0000ff"/>
<polygon points="1586.38,382.91 1583.03,389.21 1589.73,389.21" fill="#0000ff"/>
<polygon points="1608.6,385.37 1605.25,391.67 1611.95,391.67" fill="#0000ff"/>
<polyline points="1186.42,142.81 1208.64,144.2 1230.86,147.09 1253.08,149.66 1275.3,153.94 1297.52,159.08 1319.74,168.06 1341.96,179.08 1364.18,194.39 1386.4,216.75 1408.62,246.92 1430.84,282.45 1453.06,319.9 1475.28,348.47 1497.5,366.87 1519.72,377.57 1541.94,383.67 1564.16,387.63 1586.38,390.2 1608.6,392.01" fill="none" stroke="#000000" stroke-width="1.0" stroke-linejoin="round"/>
<rect x="1183.82" y="140.21" width="5.2" height="5.2" fill="#000000"/>
<rect x="1206.04" y="141.6" width="5.2" height="5.2" fill="#000000"/>
<rect x="1228.26" y="144.49" width="5.2" height="5.2" fill="#000000"/>
<rect x="1250.48" y="147.06" width="5.2" height="5.2" fill="#000000"/>
<rect x="1272.7" y="151.34" width="5.2" height="5.2" fill="#000000"/>
<rect x="1294.92" y="156.48" width="5.2" height="5.2" fill="#000000"/>
<rect x="1317.14" y="165.46" width="5.2" height="5.2" fill="#000000"/>
<rect x="1339.36" y="176.48" width="5.2" height="5.2" fill="#000000"/>
<rect x="1361.58" y="191.79" width="5.2" height="5.2" fill="#000000"/>
<rect x="1383.8" y="214.15" width="5.2" height="5.2" fill="#000000"/>
<rect x="1406.02" y="244.32" width="5.2" height="5.2" fill="#000000"/>
<rect x="1428.24" y="279.85" width="5.2" height="5.2" fill="#000000"/>
<rect x="1450.46" y="317.3" width="5.2" height="5.2" fill="#000000"/>
<rect x="1472.68" y="345.87" width="5.2" height="5.2" fill="#000000"/>
<rect x="1494.9" y="364.27" width="5.2" height="5.2" fill="#000000"/>
<rect x="1517.12" y="374.97" width="5.2" height="5.2" fill="#000000"/>
<rect x="1539.34" y="381.07" width="5.2" height="5.2" fill="#000000"/>
<rect x="1561.56" y="385.03" width="5.2" height="5.2" fill="#000000"/>
<rect x="1583.78" y="387.6" width="5.2" height="5.2" fill="#000000"/>
<rect x="1606" y="389.41" width="5.2" height="5.2" fill="#000000"/>
<polyline points="1186.42,146.24 1208.64,148.8 1230.86,151.37 1253.08,154.26 1275.3,157.9 1297.52,162.82 1319.74,168.49 1341.96,175.55 1364.18,183.79 1386.4,193.64 1408.62,205.94 1430.84,219.85 1453.06,236.33 1475.28,254.73 1497.5,274.42 1519.72,295.71 1541.94,315.83 1564.16,334.56 1586.38,350.5 1608.6,363.23" fill="none" stroke="#9c9c9c" stroke-width="1.0" stroke-linejoin="round"/>
<circle cx="1186.42" cy="146.24" r="2.9" fill="#808080"/>
<circle cx="1208.64" cy="148.8" r="2.9" fill="#808080"/>
<circle cx="1230.86" cy="151.37" r="2.9" fill="#808080"/>
<circle cx="1253.08" cy="154.26" r="2.9" fill="#808080"/>
<circle cx="1275.3" cy="157.9" r="2.9" fill="#808080"/>
<circle cx="1297.52" cy="162.82" r="2.9" fill="#808080"/>
<circle cx="1319.74" cy="168.49" r="2.9" fill="#808080"/>
<circle cx="1341.96" cy="175.55" r="2.9" fill="#808080"/>
<circle cx="1364.18" cy="183.79" r="2.9" fill="#808080"/>
<circle cx="1386.4" cy="193.64" r="2.9" fill="#808080"/>
<circle cx="1408.62" cy="205.94" r="2.9" fill="#808080"/>
<circle cx="1430.84" cy="219.85" r="2.9" fill="#808080"/>
<circle cx="1453.06" cy="236.33" r="2.9" fill="#808080"/>
<circle cx="1475.28" cy="254.73" r="2.9" fill="#808080"/>
<circle cx="1497.5" cy="274.42" r="2.9" fill="#808080"/>
<circle cx="1519.72" cy="295.71" r="2.9" fill="#808080"/>
<circle cx="1541.94" cy="315.83" r="2.9" fill="#808080"/>
<circle cx="1564.16" cy="334.56" r="2.9" fill="#808080"/>
<circle cx="1586.38" cy="350.5" r="2.9" fill="#808080"/>
<circle cx="1608.6" cy="363.23" r="2.9" fill="#808080"/>
</g>
<rect x="1186.0" y="76.9" width="422.6" height="321" fill="none" stroke="#1a1a1a" stroke-width="1.8" stroke-linejoin="round"/>
<line x1="1186" y1="397.9" x2="1191.5" y2="397.9" stroke="#1a1a1a" stroke-width="1.8" />
<text x="0" y="0" font-size="16.6" font-weight="bold" text-anchor="end" transform="translate(1178.3,402.5) scale(0.91,1)">0</text>
<line x1="1186" y1="344.4" x2="1191.5" y2="344.4" stroke="#1a1a1a" stroke-width="1.8" />
<text x="0" y="0" font-size="16.6" font-weight="bold" text-anchor="end" transform="translate(1178.3,349) scale(0.91,1)">500</text>
<line x1="1186" y1="290.9" x2="1191.5" y2="290.9" stroke="#1a1a1a" stroke-width="1.8" />
<text x="0" y="0" font-size="16.6" font-weight="bold" text-anchor="end" transform="translate(1178.3,295.5) scale(0.91,1)">1000</text>
<line x1="1186" y1="237.4" x2="1191.5" y2="237.4" stroke="#1a1a1a" stroke-width="1.8" />
<text x="0" y="0" font-size="16.6" font-weight="bold" text-anchor="end" transform="translate(1178.3,242) scale(0.91,1)">1500</text>
<line x1="1186" y1="183.9" x2="1191.5" y2="183.9" stroke="#1a1a1a" stroke-width="1.8" />
<text x="0" y="0" font-size="16.6" font-weight="bold" text-anchor="end" transform="translate(1178.3,188.5) scale(0.91,1)">2000</text>
<line x1="1186" y1="130.4" x2="1191.5" y2="130.4" stroke="#1a1a1a" stroke-width="1.8" />
<text x="0" y="0" font-size="16.6" font-weight="bold" text-anchor="end" transform="translate(1178.3,135) scale(0.91,1)">2500</text>
<line x1="1186" y1="76.9" x2="1191.5" y2="76.9" stroke="#1a1a1a" stroke-width="1.8" />
<text x="0" y="0" font-size="16.6" font-weight="bold" text-anchor="end" transform="translate(1178.3,81.5) scale(0.91,1)">3000</text>
<line x1="1186" y1="371.15" x2="1188.5" y2="371.15" stroke="#1a1a1a" stroke-width="1.8" />
<line x1="1186" y1="317.65" x2="1188.5" y2="317.65" stroke="#1a1a1a" stroke-width="1.8" />
<line x1="1186" y1="264.15" x2="1188.5" y2="264.15" stroke="#1a1a1a" stroke-width="1.8" />
<line x1="1186" y1="210.65" x2="1188.5" y2="210.65" stroke="#1a1a1a" stroke-width="1.8" />
<line x1="1186" y1="157.15" x2="1188.5" y2="157.15" stroke="#1a1a1a" stroke-width="1.8" />
<line x1="1186" y1="103.65" x2="1188.5" y2="103.65" stroke="#1a1a1a" stroke-width="1.8" />
<line x1="1275.3" y1="397.9" x2="1275.3" y2="404.4" stroke="#1a1a1a" stroke-width="1.8" />
<text x="0" y="0" font-size="16.6" font-weight="bold" text-anchor="middle" transform="translate(1275.3,421.5) scale(0.91,1)">35</text>
<line x1="1386.4" y1="397.9" x2="1386.4" y2="404.4" stroke="#1a1a1a" stroke-width="1.8" />
<text x="0" y="0" font-size="16.6" font-weight="bold" text-anchor="middle" transform="translate(1386.4,421.5) scale(0.91,1)">40</text>
<line x1="1497.5" y1="397.9" x2="1497.5" y2="404.4" stroke="#1a1a1a" stroke-width="1.8" />
<text x="0" y="0" font-size="16.6" font-weight="bold" text-anchor="middle" transform="translate(1497.5,421.5) scale(0.91,1)">45</text>
<line x1="1608.6" y1="397.9" x2="1608.6" y2="404.4" stroke="#1a1a1a" stroke-width="1.8" />
<text x="0" y="0" font-size="16.6" font-weight="bold" text-anchor="middle" transform="translate(1608.6,421.5) scale(0.91,1)">50</text>
<line x1="1219.75" y1="397.9" x2="1219.75" y2="401.4" stroke="#1a1a1a" stroke-width="1.8" />
<line x1="1330.85" y1="397.9" x2="1330.85" y2="401.4" stroke="#1a1a1a" stroke-width="1.8" />
<line x1="1441.95" y1="397.9" x2="1441.95" y2="401.4" stroke="#1a1a1a" stroke-width="1.8" />
<line x1="1553.05" y1="397.9" x2="1553.05" y2="401.4" stroke="#1a1a1a" stroke-width="1.8" />
<rect x="1383.5" y="79.9" width="217.3" height="108.5" fill="#fff" stroke="#b4b4b4" stroke-width="1.4"/>
<line x1="1401.8" y1="96.2" x2="1449.5" y2="96.2" stroke="#ff7070" stroke-width="1.3" />
<rect x="1422.35" y="92.95" width="6.5" height="6.5" fill="#ff0000"/>
<text x="1455.2" y="103.6" font-size="21.3" font-weight="normal" text-anchor="start" fill="#000" >ICP1.5/epoxy</text>
<line x1="1401.8" y1="122.8" x2="1449.5" y2="122.8" stroke="#3030ff" stroke-width="1.3" />
<polygon points="1425.6,118.44 1421.6,125.96 1429.6,125.96" fill="#0000ff"/>
<text x="1455.2" y="130.2" font-size="21.3" font-weight="normal" text-anchor="start" fill="#000" >MSF1.5/epoxy</text>
<line x1="1401.8" y1="149.8" x2="1449.5" y2="149.8" stroke="#202020" stroke-width="1.3" />
<rect x="1422.35" y="146.55" width="6.5" height="6.5" fill="#000000"/>
<text x="1455.2" y="157.2" font-size="21.3" font-weight="normal" text-anchor="start" fill="#000" >P1.5/epoxy</text>
<line x1="1401.8" y1="176.5" x2="1449.5" y2="176.5" stroke="#c4c4c4" stroke-width="1.3" />
<circle cx="1425.6" cy="176.5" r="3.25" fill="#808080"/>
<text x="1455.2" y="183.9" font-size="21.3" font-weight="normal" text-anchor="start" fill="#000" >Neat epoxy</text>
<text x="0" y="0" font-size="56" font-weight="normal" fill="#000" stroke="#000" stroke-width="0.5" transform="translate(917.8,595.2) scale(0.975,1)" style="font-family:'DejaVu Sans',sans-serif">c</text>
<rect x="1023.6" y="669.9" width="593.6" height="434.3" fill="none" stroke="#000" stroke-width="2.6" stroke-linejoin="round"/>
<line x1="1023.6" y1="1104.2" x2="1033.6" y2="1104.2" stroke="#000" stroke-width="2.8" />
<text x="1013.9" y="1110.6" font-size="21.8" font-weight="bold" text-anchor="end" fill="#000" >0</text>
<line x1="1023.6" y1="1007.69" x2="1033.6" y2="1007.69" stroke="#000" stroke-width="2.8" />
<text x="1013.9" y="1014.09" font-size="21.8" font-weight="bold" text-anchor="end" fill="#000" >100</text>
<line x1="1023.6" y1="911.18" x2="1033.6" y2="911.18" stroke="#000" stroke-width="2.8" />
<text x="1013.9" y="917.58" font-size="21.8" font-weight="bold" text-anchor="end" fill="#000" >200</text>
<line x1="1023.6" y1="814.67" x2="1033.6" y2="814.67" stroke="#000" stroke-width="2.8" />
<text x="1013.9" y="821.07" font-size="21.8" font-weight="bold" text-anchor="end" fill="#000" >300</text>
<line x1="1023.6" y1="718.16" x2="1033.6" y2="718.16" stroke="#000" stroke-width="2.8" />
<text x="1013.9" y="724.56" font-size="21.8" font-weight="bold" text-anchor="end" fill="#000" >400</text>
<line x1="1023.6" y1="1055.94" x2="1028.6" y2="1055.94" stroke="#000" stroke-width="2.8" />
<line x1="1023.6" y1="959.43" x2="1028.6" y2="959.43" stroke="#000" stroke-width="2.8" />
<line x1="1023.6" y1="862.92" x2="1028.6" y2="862.92" stroke="#000" stroke-width="2.8" />
<line x1="1023.6" y1="766.41" x2="1028.6" y2="766.41" stroke="#000" stroke-width="2.8" />
<line x1="1023.6" y1="669.9" x2="1028.6" y2="669.9" stroke="#000" stroke-width="2.8" />
<line x1="1101.1" y1="1104.2" x2="1101.1" y2="1114.2" stroke="#000" stroke-width="2.8" />
<text x="1101.1" y="1136.4" font-size="21.5" font-weight="bold" text-anchor="middle" fill="#000" >40</text>
<line x1="1273.06" y1="1104.2" x2="1273.06" y2="1114.2" stroke="#000" stroke-width="2.8" />
<text x="1273.06" y="1136.4" font-size="21.5" font-weight="bold" text-anchor="middle" fill="#000" >60</text>
<line x1="1445.02" y1="1104.2" x2="1445.02" y2="1114.2" stroke="#000" stroke-width="2.8" />
<text x="1445.02" y="1136.4" font-size="21.5" font-weight="bold" text-anchor="middle" fill="#000" >80</text>
<line x1="1616.98" y1="1104.2" x2="1616.98" y2="1114.2" stroke="#000" stroke-width="2.8" />
<text x="1616.98" y="1136.4" font-size="21.5" font-weight="bold" text-anchor="middle" fill="#000" >100</text>
<line x1="1187.08" y1="1104.2" x2="1187.08" y2="1109.2" stroke="#000" stroke-width="2.8" />
<line x1="1359.04" y1="1104.2" x2="1359.04" y2="1109.2" stroke="#000" stroke-width="2.8" />
<line x1="1531" y1="1104.2" x2="1531" y2="1109.2" stroke="#000" stroke-width="2.8" />
<g clip-path="url(#cpc)">
<polyline points="1023.72,1017.24 1032.32,1012.13 1040.91,1004.89 1049.51,994.66 1058.11,981.53 1066.71,962.71 1075.31,939.55 1083.9,905.1 1092.5,862.54 1101.1,817.95 1109.7,775.97 1118.3,741.32 1126.89,725.78 1135.49,729.83 1144.09,754.44 1152.69,796.72 1161.29,848.64 1169.88,900.08 1178.48,947.08 1187.08,984.72 1195.68,1013.87 1204.28,1038.09 1212.87,1053.72 1221.47,1064.82 1230.07,1075.25 1238.67,1082.49 1247.27,1088.28 1255.86,1092.62 1264.46,1095.71 1273.06,1097.93 1281.66,1099.37 1290.26,1100.34 1298.85,1101.33 1307.45,1102 1316.05,1102.45 1324.65,1102.75 1333.25,1102.95 1341.84,1103.09 1350.44,1103.19 1359.04,1103.25 1367.64,1103.3 1376.24,1103.33 1384.83,1103.35 1393.43,1103.37 1402.03,1103.38 1410.63,1103.39 1419.23,1103.4 1427.82,1103.41 1436.42,1103.41 1445.02,1103.42 1453.62,1103.43 1462.22,1103.43 1470.81,1103.44 1479.41,1103.44 1488.01,1103.45 1496.61,1103.45 1505.21,1103.46 1513.8,1103.46 1522.4,1103.47 1531,1103.47 1539.6,1103.48 1548.2,1103.48 1556.79,1103.49 1565.39,1103.49 1573.99,1103.5 1582.59,1103.5 1591.19,1103.51 1599.78,1103.51 1608.38,1103.52 1616.98,1103.52" fill="none" stroke="#ff0000" stroke-width="1.1" stroke-linejoin="round"/>
<rect x="1019.82" y="1013.34" width="7.8" height="7.8" fill="#ff0000"/>
<rect x="1028.42" y="1008.23" width="7.8" height="7.8" fill="#ff0000"/>
<rect x="1037.01" y="1000.99" width="7.8" height="7.8" fill="#ff0000"/>
<rect x="1045.61" y="990.76" width="7.8" height="7.8" fill="#ff0000"/>
<rect x="1054.21" y="977.63" width="7.8" height="7.8" fill="#ff0000"/>
<rect x="1062.81" y="958.81" width="7.8" height="7.8" fill="#ff0000"/>
<rect x="1071.41" y="935.65" width="7.8" height="7.8" fill="#ff0000"/>
<rect x="1080" y="901.2" width="7.8" height="7.8" fill="#ff0000"/>
<rect x="1088.6" y="858.64" width="7.8" height="7.8" fill="#ff0000"/>
<rect x="1097.2" y="814.05" width="7.8" height="7.8" fill="#ff0000"/>
<rect x="1105.8" y="772.07" width="7.8" height="7.8" fill="#ff0000"/>
<rect x="1114.4" y="737.42" width="7.8" height="7.8" fill="#ff0000"/>
<rect x="1122.99" y="721.88" width="7.8" height="7.8" fill="#ff0000"/>
<rect x="1131.59" y="725.93" width="7.8" height="7.8" fill="#ff0000"/>
<rect x="1140.19" y="750.54" width="7.8" height="7.8" fill="#ff0000"/>
<rect x="1148.79" y="792.82" width="7.8" height="7.8" fill="#ff0000"/>
<rect x="1157.39" y="844.74" width="7.8" height="7.8" fill="#ff0000"/>
<rect x="1165.98" y="896.18" width="7.8" height="7.8" fill="#ff0000"/>
<rect x="1174.58" y="943.18" width="7.8" height="7.8" fill="#ff0000"/>
<rect x="1183.18" y="980.82" width="7.8" height="7.8" fill="#ff0000"/>
<rect x="1191.78" y="1009.97" width="7.8" height="7.8" fill="#ff0000"/>
<rect x="1200.38" y="1034.19" width="7.8" height="7.8" fill="#ff0000"/>
<rect x="1208.97" y="1049.82" width="7.8" height="7.8" fill="#ff0000"/>
<rect x="1217.57" y="1060.92" width="7.8" height="7.8" fill="#ff0000"/>
<rect x="1226.17" y="1071.35" width="7.8" height="7.8" fill="#ff0000"/>
<rect x="1234.77" y="1078.59" width="7.8" height="7.8" fill="#ff0000"/>
<rect x="1243.37" y="1084.38" width="7.8" height="7.8" fill="#ff0000"/>
<rect x="1251.96" y="1088.72" width="7.8" height="7.8" fill="#ff0000"/>
<rect x="1260.56" y="1091.81" width="7.8" height="7.8" fill="#ff0000"/>
<rect x="1269.16" y="1094.03" width="7.8" height="7.8" fill="#ff0000"/>
<rect x="1277.76" y="1095.47" width="7.8" height="7.8" fill="#ff0000"/>
<rect x="1286.36" y="1096.44" width="7.8" height="7.8" fill="#ff0000"/>
<rect x="1294.95" y="1097.43" width="7.8" height="7.8" fill="#ff0000"/>
<rect x="1303.55" y="1098.1" width="7.8" height="7.8" fill="#ff0000"/>
<rect x="1312.15" y="1098.55" width="7.8" height="7.8" fill="#ff0000"/>
<rect x="1320.75" y="1098.85" width="7.8" height="7.8" fill="#ff0000"/>
<rect x="1329.35" y="1099.05" width="7.8" height="7.8" fill="#ff0000"/>
<rect x="1337.94" y="1099.19" width="7.8" height="7.8" fill="#ff0000"/>
<rect x="1346.54" y="1099.29" width="7.8" height="7.8" fill="#ff0000"/>
<rect x="1355.14" y="1099.35" width="7.8" height="7.8" fill="#ff0000"/>
<rect x="1363.74" y="1099.4" width="7.8" height="7.8" fill="#ff0000"/>
<rect x="1372.34" y="1099.43" width="7.8" height="7.8" fill="#ff0000"/>
<rect x="1380.93" y="1099.45" width="7.8" height="7.8" fill="#ff0000"/>
<rect x="1389.53" y="1099.47" width="7.8" height="7.8" fill="#ff0000"/>
<rect x="1398.13" y="1099.48" width="7.8" height="7.8" fill="#ff0000"/>
<rect x="1406.73" y="1099.49" width="7.8" height="7.8" fill="#ff0000"/>
<rect x="1415.33" y="1099.5" width="7.8" height="7.8" fill="#ff0000"/>
<rect x="1423.92" y="1099.51" width="7.8" height="7.8" fill="#ff0000"/>
<rect x="1432.52" y="1099.51" width="7.8" height="7.8" fill="#ff0000"/>
<rect x="1441.12" y="1099.52" width="7.8" height="7.8" fill="#ff0000"/>
<rect x="1449.72" y="1099.53" width="7.8" height="7.8" fill="#ff0000"/>
<rect x="1458.32" y="1099.53" width="7.8" height="7.8" fill="#ff0000"/>
<rect x="1466.91" y="1099.54" width="7.8" height="7.8" fill="#ff0000"/>
<rect x="1475.51" y="1099.54" width="7.8" height="7.8" fill="#ff0000"/>
<rect x="1484.11" y="1099.55" width="7.8" height="7.8" fill="#ff0000"/>
<rect x="1492.71" y="1099.55" width="7.8" height="7.8" fill="#ff0000"/>
<rect x="1501.31" y="1099.56" width="7.8" height="7.8" fill="#ff0000"/>
<rect x="1509.9" y="1099.56" width="7.8" height="7.8" fill="#ff0000"/>
<rect x="1518.5" y="1099.57" width="7.8" height="7.8" fill="#ff0000"/>
<rect x="1527.1" y="1099.57" width="7.8" height="7.8" fill="#ff0000"/>
<rect x="1535.7" y="1099.58" width="7.8" height="7.8" fill="#ff0000"/>
<rect x="1544.3" y="1099.58" width="7.8" height="7.8" fill="#ff0000"/>
<rect x="1552.89" y="1099.59" width="7.8" height="7.8" fill="#ff0000"/>
<rect x="1561.49" y="1099.59" width="7.8" height="7.8" fill="#ff0000"/>
<rect x="1570.09" y="1099.6" width="7.8" height="7.8" fill="#ff0000"/>
<rect x="1578.69" y="1099.6" width="7.8" height="7.8" fill="#ff0000"/>
<rect x="1587.29" y="1099.61" width="7.8" height="7.8" fill="#ff0000"/>
<rect x="1595.88" y="1099.61" width="7.8" height="7.8" fill="#ff0000"/>
<rect x="1604.48" y="1099.62" width="7.8" height="7.8" fill="#ff0000"/>
<rect x="1613.08" y="1099.62" width="7.8" height="7.8" fill="#ff0000"/>
<polyline points="1023.72,985.68 1032.32,977.19 1040.91,965.9 1049.51,950.84 1058.11,931.93 1066.71,908.48 1075.31,881.26 1083.9,845.36 1092.5,811.77 1101.1,778.57 1109.7,755.99 1118.3,742.86 1126.89,745.47 1135.49,764.48 1144.09,797.87 1152.69,840.92 1161.29,885.7 1169.88,927.3 1178.48,964.93 1187.08,996.01 1195.68,1020.52 1204.28,1040.31 1212.87,1055.37 1221.47,1066.17 1230.07,1076.21 1238.67,1082.97 1247.27,1088.76 1255.86,1093.1 1264.46,1096.19 1273.06,1098.51 1281.66,1099.76 1290.26,1100.63 1298.85,1101.69 1307.45,1102.34 1316.05,1102.74 1324.65,1102.98 1333.25,1103.12 1341.84,1103.21 1350.44,1103.27 1359.04,1103.3 1367.64,1103.32 1376.24,1103.34 1384.83,1103.35 1393.43,1103.36 1402.03,1103.36 1410.63,1103.36 1419.23,1103.37 1427.82,1103.37 1436.42,1103.37 1445.02,1103.38 1453.62,1103.38 1462.22,1103.38 1470.81,1103.38 1479.41,1103.39 1488.01,1103.39 1496.61,1103.39 1505.21,1103.39 1513.8,1103.4 1522.4,1103.4 1531,1103.4 1539.6,1103.41 1548.2,1103.41 1556.79,1103.41 1565.39,1103.41 1573.99,1103.42 1582.59,1103.42 1591.19,1103.42 1599.78,1103.42 1608.38,1103.43 1616.98,1103.43" fill="none" stroke="#0000ff" stroke-width="1.1" stroke-linejoin="round"/>
<polygon points="1023.72,980.27 1018.75,989.62 1028.69,989.62" fill="#0000ff"/>
<polygon points="1032.32,971.77 1027.35,981.12 1037.28,981.12" fill="#0000ff"/>
<polygon points="1040.91,960.48 1035.95,969.83 1045.88,969.83" fill="#0000ff"/>
<polygon points="1049.51,945.43 1044.54,954.78 1054.48,954.78" fill="#0000ff"/>
<polygon points="1058.11,926.51 1053.14,935.86 1063.08,935.86" fill="#0000ff"/>
<polygon points="1066.71,903.06 1061.74,912.41 1071.68,912.41" fill="#0000ff"/>
<polygon points="1075.31,875.84 1070.34,885.19 1080.27,885.19" fill="#0000ff"/>
<polygon points="1083.9,839.94 1078.94,849.29 1088.87,849.29" fill="#0000ff"/>
<polygon points="1092.5,806.35 1087.53,815.7 1097.47,815.7" fill="#0000ff"/>
<polygon points="1101.1,773.15 1096.13,782.5 1106.07,782.5" fill="#0000ff"/>
<polygon points="1109.7,750.57 1104.73,759.92 1114.67,759.92" fill="#0000ff"/>
<polygon points="1118.3,737.44 1113.33,746.8 1123.26,746.8" fill="#0000ff"/>
<polygon points="1126.89,740.05 1121.93,749.4 1131.86,749.4" fill="#0000ff"/>
<polygon points="1135.49,759.06 1130.52,768.41 1140.46,768.41" fill="#0000ff"/>
<polygon points="1144.09,792.45 1139.12,801.81 1149.06,801.81" fill="#0000ff"/>
<polygon points="1152.69,835.5 1147.72,844.85 1157.66,844.85" fill="#0000ff"/>
<polygon points="1161.29,880.28 1156.32,889.63 1166.25,889.63" fill="#0000ff"/>
<polygon points="1169.88,921.88 1164.92,931.23 1174.85,931.23" fill="#0000ff"/>
<polygon points="1178.48,959.52 1173.51,968.87 1183.45,968.87" fill="#0000ff"/>
<polygon points="1187.08,990.59 1182.11,999.94 1192.05,999.94" fill="#0000ff"/>
<polygon points="1195.68,1015.11 1190.71,1024.46 1200.65,1024.46" fill="#0000ff"/>
<polygon points="1204.28,1034.89 1199.31,1044.24 1209.24,1044.24" fill="#0000ff"/>
<polygon points="1212.87,1049.95 1207.91,1059.3 1217.84,1059.3" fill="#0000ff"/>
<polygon points="1221.47,1060.76 1216.5,1070.11 1226.44,1070.11" fill="#0000ff"/>
<polygon points="1230.07,1070.79 1225.1,1080.14 1235.04,1080.14" fill="#0000ff"/>
<polygon points="1238.67,1077.55 1233.7,1086.9 1243.64,1086.9" fill="#0000ff"/>
<polygon points="1247.27,1083.34 1242.3,1092.69 1252.23,1092.69" fill="#0000ff"/>
<polygon points="1255.86,1087.68 1250.9,1097.03 1260.83,1097.03" fill="#0000ff"/>
<polygon points="1264.46,1090.77 1259.49,1100.12 1269.43,1100.12" fill="#0000ff"/>
<polygon points="1273.06,1093.09 1268.09,1102.44 1278.03,1102.44" fill="#0000ff"/>
<polygon points="1281.66,1094.34 1276.69,1103.69 1286.63,1103.69" fill="#0000ff"/>
<polygon points="1290.26,1095.21 1285.29,1104.56 1295.22,1104.56" fill="#0000ff"/>
<polygon points="1298.85,1096.28 1293.89,1105.63 1303.82,1105.63" fill="#0000ff"/>
<polygon points="1307.45,1096.92 1302.48,1106.28 1312.42,1106.28" fill="#0000ff"/>
<polygon points="1316.05,1097.32 1311.08,1106.67 1321.02,1106.67" fill="#0000ff"/>
<polygon points="1324.65,1097.56 1319.68,1106.91 1329.62,1106.91" fill="#0000ff"/>
<polygon points="1333.25,1097.7 1328.28,1107.06 1338.21,1107.06" fill="#0000ff"/>
<polygon points="1341.84,1097.79 1336.88,1107.15 1346.81,1107.15" fill="#0000ff"/>
<polygon points="1350.44,1097.85 1345.47,1107.2 1355.41,1107.2" fill="#0000ff"/>
<polygon points="1359.04,1097.88 1354.07,1107.24 1364.01,1107.24" fill="#0000ff"/>
<polygon points="1367.64,1097.91 1362.67,1107.26 1372.61,1107.26" fill="#0000ff"/>
<polygon points="1376.24,1097.92 1371.27,1107.27 1381.2,1107.27" fill="#0000ff"/>
<polygon points="1384.83,1097.93 1379.87,1107.28 1389.8,1107.28" fill="#0000ff"/>
<polygon points="1393.43,1097.94 1388.46,1107.29 1398.4,1107.29" fill="#0000ff"/>
<polygon points="1402.03,1097.94 1397.06,1107.29 1407,1107.29" fill="#0000ff"/>
<polygon points="1410.63,1097.95 1405.66,1107.3 1415.6,1107.3" fill="#0000ff"/>
<polygon points="1419.23,1097.95 1414.26,1107.3 1424.19,1107.3" fill="#0000ff"/>
<polygon points="1427.82,1097.95 1422.86,1107.3 1432.79,1107.3" fill="#0000ff"/>
<polygon points="1436.42,1097.96 1431.45,1107.31 1441.39,1107.31" fill="#0000ff"/>
<polygon points="1445.02,1097.96 1440.05,1107.31 1449.99,1107.31" fill="#0000ff"/>
<polygon points="1453.62,1097.96 1448.65,1107.31 1458.59,1107.31" fill="#0000ff"/>
<polygon points="1462.22,1097.96 1457.25,1107.32 1467.18,1107.32" fill="#0000ff"/>
<polygon points="1470.81,1097.97 1465.85,1107.32 1475.78,1107.32" fill="#0000ff"/>
<polygon points="1479.41,1097.97 1474.44,1107.32 1484.38,1107.32" fill="#0000ff"/>
<polygon points="1488.01,1097.97 1483.04,1107.32 1492.98,1107.32" fill="#0000ff"/>
<polygon points="1496.61,1097.97 1491.64,1107.33 1501.58,1107.33" fill="#0000ff"/>
<polygon points="1505.21,1097.98 1500.24,1107.33 1510.17,1107.33" fill="#0000ff"/>
<polygon points="1513.8,1097.98 1508.84,1107.33 1518.77,1107.33" fill="#0000ff"/>
<polygon points="1522.4,1097.98 1517.43,1107.33 1527.37,1107.33" fill="#0000ff"/>
<polygon points="1531,1097.98 1526.03,1107.34 1535.97,1107.34" fill="#0000ff"/>
<polygon points="1539.6,1097.99 1534.63,1107.34 1544.57,1107.34" fill="#0000ff"/>
<polygon points="1548.2,1097.99 1543.23,1107.34 1553.16,1107.34" fill="#0000ff"/>
<polygon points="1556.79,1097.99 1551.83,1107.34 1561.76,1107.34" fill="#0000ff"/>
<polygon points="1565.39,1097.99 1560.42,1107.35 1570.36,1107.35" fill="#0000ff"/>
<polygon points="1573.99,1098 1569.02,1107.35 1578.96,1107.35" fill="#0000ff"/>
<polygon points="1582.59,1098 1577.62,1107.35 1587.56,1107.35" fill="#0000ff"/>
<polygon points="1591.19,1098 1586.22,1107.35 1596.15,1107.35" fill="#0000ff"/>
<polygon points="1599.78,1098 1594.82,1107.36 1604.75,1107.36" fill="#0000ff"/>
<polygon points="1608.38,1098.01 1603.41,1107.36 1613.35,1107.36" fill="#0000ff"/>
<polygon points="1616.98,1098.01 1612.01,1107.36 1621.95,1107.36" fill="#0000ff"/>
<polyline points="1023.72,1038.38 1032.32,1035.58 1040.91,1031.82 1049.51,1026.22 1058.11,1018.11 1066.71,1007.3 1075.31,990.03 1083.9,965.32 1092.5,925.94 1101.1,872.28 1109.7,815.05 1118.3,780.6 1126.89,801.06 1135.49,854.33 1144.09,917.45 1152.69,967.25 1161.29,1004.12 1169.88,1029.98 1178.48,1048.13 1187.08,1060 1195.68,1070.04 1204.28,1076.89 1212.87,1082.77 1221.47,1086.83 1230.07,1090.88 1238.67,1093.97 1247.27,1096 1255.86,1097.44 1264.46,1098.6 1273.06,1099.57 1281.66,1100.34 1290.26,1100.92 1298.85,1101.3 1307.45,1101.86 1316.05,1102.3 1324.65,1102.64 1333.25,1102.9 1341.84,1103.11 1350.44,1103.27 1359.04,1103.4 1367.64,1103.5 1376.24,1103.57 1384.83,1103.63 1393.43,1103.68 1402.03,1103.72 1410.63,1103.75 1419.23,1103.77 1427.82,1103.79 1436.42,1103.81 1445.02,1103.82 1453.62,1103.83 1462.22,1103.84 1470.81,1103.85 1479.41,1103.86 1488.01,1103.86 1496.61,1103.87 1505.21,1103.87 1513.8,1103.87 1522.4,1103.88 1531,1103.88 1539.6,1103.88 1548.2,1103.89 1556.79,1103.89 1565.39,1103.89 1573.99,1103.9 1582.59,1103.9 1591.19,1103.9 1599.78,1103.9 1608.38,1103.91 1616.98,1103.91" fill="none" stroke="#000000" stroke-width="1.1" stroke-linejoin="round"/>
<rect x="1019.82" y="1034.48" width="7.8" height="7.8" fill="#000000"/>
<rect x="1028.42" y="1031.68" width="7.8" height="7.8" fill="#000000"/>
<rect x="1037.01" y="1027.92" width="7.8" height="7.8" fill="#000000"/>
<rect x="1045.61" y="1022.32" width="7.8" height="7.8" fill="#000000"/>
<rect x="1054.21" y="1014.21" width="7.8" height="7.8" fill="#000000"/>
<rect x="1062.81" y="1003.4" width="7.8" height="7.8" fill="#000000"/>
<rect x="1071.41" y="986.13" width="7.8" height="7.8" fill="#000000"/>
<rect x="1080" y="961.42" width="7.8" height="7.8" fill="#000000"/>
<rect x="1088.6" y="922.04" width="7.8" height="7.8" fill="#000000"/>
<rect x="1097.2" y="868.38" width="7.8" height="7.8" fill="#000000"/>
<rect x="1105.8" y="811.15" width="7.8" height="7.8" fill="#000000"/>
<rect x="1114.4" y="776.7" width="7.8" height="7.8" fill="#000000"/>
<rect x="1122.99" y="797.16" width="7.8" height="7.8" fill="#000000"/>
<rect x="1131.59" y="850.43" width="7.8" height="7.8" fill="#000000"/>
<rect x="1140.19" y="913.55" width="7.8" height="7.8" fill="#000000"/>
<rect x="1148.79" y="963.35" width="7.8" height="7.8" fill="#000000"/>
<rect x="1157.39" y="1000.22" width="7.8" height="7.8" fill="#000000"/>
<rect x="1165.98" y="1026.08" width="7.8" height="7.8" fill="#000000"/>
<rect x="1174.58" y="1044.23" width="7.8" height="7.8" fill="#000000"/>
<rect x="1183.18" y="1056.1" width="7.8" height="7.8" fill="#000000"/>
<rect x="1191.78" y="1066.14" width="7.8" height="7.8" fill="#000000"/>
<rect x="1200.38" y="1072.99" width="7.8" height="7.8" fill="#000000"/>
<rect x="1208.97" y="1078.87" width="7.8" height="7.8" fill="#000000"/>
<rect x="1217.57" y="1082.93" width="7.8" height="7.8" fill="#000000"/>
<rect x="1226.17" y="1086.98" width="7.8" height="7.8" fill="#000000"/>
<rect x="1234.77" y="1090.07" width="7.8" height="7.8" fill="#000000"/>
<rect x="1243.37" y="1092.1" width="7.8" height="7.8" fill="#000000"/>
<rect x="1251.96" y="1093.54" width="7.8" height="7.8" fill="#000000"/>
<rect x="1260.56" y="1094.7" width="7.8" height="7.8" fill="#000000"/>
<rect x="1269.16" y="1095.67" width="7.8" height="7.8" fill="#000000"/>
<rect x="1277.76" y="1096.44" width="7.8" height="7.8" fill="#000000"/>
<rect x="1286.36" y="1097.02" width="7.8" height="7.8" fill="#000000"/>
<rect x="1294.95" y="1097.4" width="7.8" height="7.8" fill="#000000"/>
<rect x="1303.55" y="1097.96" width="7.8" height="7.8" fill="#000000"/>
<rect x="1312.15" y="1098.4" width="7.8" height="7.8" fill="#000000"/>
<rect x="1320.75" y="1098.74" width="7.8" height="7.8" fill="#000000"/>
<rect x="1329.35" y="1099" width="7.8" height="7.8" fill="#000000"/>
<rect x="1337.94" y="1099.21" width="7.8" height="7.8" fill="#000000"/>
<rect x="1346.54" y="1099.37" width="7.8" height="7.8" fill="#000000"/>
<rect x="1355.14" y="1099.5" width="7.8" height="7.8" fill="#000000"/>
<rect x="1363.74" y="1099.6" width="7.8" height="7.8" fill="#000000"/>
<rect x="1372.34" y="1099.67" width="7.8" height="7.8" fill="#000000"/>
<rect x="1380.93" y="1099.73" width="7.8" height="7.8" fill="#000000"/>
<rect x="1389.53" y="1099.78" width="7.8" height="7.8" fill="#000000"/>
<rect x="1398.13" y="1099.82" width="7.8" height="7.8" fill="#000000"/>
<rect x="1406.73" y="1099.85" width="7.8" height="7.8" fill="#000000"/>
<rect x="1415.33" y="1099.87" width="7.8" height="7.8" fill="#000000"/>
<rect x="1423.92" y="1099.89" width="7.8" height="7.8" fill="#000000"/>
<rect x="1432.52" y="1099.91" width="7.8" height="7.8" fill="#000000"/>
<rect x="1441.12" y="1099.92" width="7.8" height="7.8" fill="#000000"/>
<rect x="1449.72" y="1099.93" width="7.8" height="7.8" fill="#000000"/>
<rect x="1458.32" y="1099.94" width="7.8" height="7.8" fill="#000000"/>
<rect x="1466.91" y="1099.95" width="7.8" height="7.8" fill="#000000"/>
<rect x="1475.51" y="1099.96" width="7.8" height="7.8" fill="#000000"/>
<rect x="1484.11" y="1099.96" width="7.8" height="7.8" fill="#000000"/>
<rect x="1492.71" y="1099.97" width="7.8" height="7.8" fill="#000000"/>
<rect x="1501.31" y="1099.97" width="7.8" height="7.8" fill="#000000"/>
<rect x="1509.9" y="1099.97" width="7.8" height="7.8" fill="#000000"/>
<rect x="1518.5" y="1099.98" width="7.8" height="7.8" fill="#000000"/>
<rect x="1527.1" y="1099.98" width="7.8" height="7.8" fill="#000000"/>
<rect x="1535.7" y="1099.98" width="7.8" height="7.8" fill="#000000"/>
<rect x="1544.3" y="1099.99" width="7.8" height="7.8" fill="#000000"/>
<rect x="1552.89" y="1099.99" width="7.8" height="7.8" fill="#000000"/>
<rect x="1561.49" y="1099.99" width="7.8" height="7.8" fill="#000000"/>
<rect x="1570.09" y="1100" width="7.8" height="7.8" fill="#000000"/>
<rect x="1578.69" y="1100" width="7.8" height="7.8" fill="#000000"/>
<rect x="1587.29" y="1100" width="7.8" height="7.8" fill="#000000"/>
<rect x="1595.88" y="1100" width="7.8" height="7.8" fill="#000000"/>
<rect x="1604.48" y="1100.01" width="7.8" height="7.8" fill="#000000"/>
<rect x="1613.08" y="1100.01" width="7.8" height="7.8" fill="#000000"/>
<polyline points="1023.72,1048.13 1032.32,1046.29 1040.91,1043.69 1049.51,1040.21 1058.11,1035.58 1066.71,1029.98 1075.31,1021.1 1083.9,1008.65 1092.5,989.16 1101.1,957.79 1109.7,906.16 1118.3,833.87 1126.89,768.82 1135.49,761.78 1144.09,825.67 1152.69,903.17 1161.29,960.88 1169.88,999.77 1178.48,1027.09 1187.08,1045.91 1195.68,1059.52 1204.28,1069.46 1212.87,1077.27 1221.47,1082.97 1230.07,1087.79 1238.67,1091.46 1247.27,1094.55 1255.86,1097.06 1264.46,1098.89 1273.06,1100.15 1281.66,1100.82 1290.26,1101.3 1298.85,1101.88 1307.45,1102.34 1316.05,1102.69 1324.65,1102.96 1333.25,1103.18 1341.84,1103.34 1350.44,1103.48 1359.04,1103.58 1367.64,1103.66 1376.24,1103.72 1384.83,1103.77 1393.43,1103.81 1402.03,1103.84 1410.63,1103.87 1419.23,1103.89 1427.82,1103.9 1436.42,1103.92 1445.02,1103.93 1453.62,1103.94 1462.22,1103.94 1470.81,1103.95 1479.41,1103.96 1488.01,1103.96 1496.61,1103.96 1505.21,1103.97 1513.8,1103.97 1522.4,1103.98 1531,1103.98 1539.6,1103.98 1548.2,1103.99 1556.79,1103.99 1565.39,1103.99 1573.99,1103.99 1582.59,1104 1591.19,1104 1599.78,1104 1608.38,1104 1616.98,1104.01" fill="none" stroke="#9c9c9c" stroke-width="1.1" stroke-linejoin="round"/>
<circle cx="1023.72" cy="1048.13" r="4.4" fill="#808080"/>
<circle cx="1032.32" cy="1046.29" r="4.4" fill="#808080"/>
<circle cx="1040.91" cy="1043.69" r="4.4" fill="#808080"/>
<circle cx="1049.51" cy="1040.21" r="4.4" fill="#808080"/>
<circle cx="1058.11" cy="1035.58" r="4.4" fill="#808080"/>
<circle cx="1066.71" cy="1029.98" r="4.4" fill="#808080"/>
<circle cx="1075.31" cy="1021.1" r="4.4" fill="#808080"/>
<circle cx="1083.9" cy="1008.65" r="4.4" fill="#808080"/>
<circle cx="1092.5" cy="989.16" r="4.4" fill="#808080"/>
<circle cx="1101.1" cy="957.79" r="4.4" fill="#808080"/>
<circle cx="1109.7" cy="906.16" r="4.4" fill="#808080"/>
<circle cx="1118.3" cy="833.87" r="4.4" fill="#808080"/>
<circle cx="1126.89" cy="768.82" r="4.4" fill="#808080"/>
<circle cx="1135.49" cy="761.78" r="4.4" fill="#808080"/>
<circle cx="1144.09" cy="825.67" r="4.4" fill="#808080"/>
<circle cx="1152.69" cy="903.17" r="4.4" fill="#808080"/>
<circle cx="1161.29" cy="960.88" r="4.4" fill="#808080"/>
<circle cx="1169.88" cy="999.77" r="4.4" fill="#808080"/>
<circle cx="1178.48" cy="1027.09" r="4.4" fill="#808080"/>
<circle cx="1187.08" cy="1045.91" r="4.4" fill="#808080"/>
<circle cx="1195.68" cy="1059.52" r="4.4" fill="#808080"/>
<circle cx="1204.28" cy="1069.46" r="4.4" fill="#808080"/>
<circle cx="1212.87" cy="1077.27" r="4.4" fill="#808080"/>
<circle cx="1221.47" cy="1082.97" r="4.4" fill="#808080"/>
<circle cx="1230.07" cy="1087.79" r="4.4" fill="#808080"/>
<circle cx="1238.67" cy="1091.46" r="4.4" fill="#808080"/>
<circle cx="1247.27" cy="1094.55" r="4.4" fill="#808080"/>
<circle cx="1255.86" cy="1097.06" r="4.4" fill="#808080"/>
<circle cx="1264.46" cy="1098.89" r="4.4" fill="#808080"/>
<circle cx="1273.06" cy="1100.15" r="4.4" fill="#808080"/>
<circle cx="1281.66" cy="1100.82" r="4.4" fill="#808080"/>
<circle cx="1290.26" cy="1101.3" r="4.4" fill="#808080"/>
<circle cx="1298.85" cy="1101.88" r="4.4" fill="#808080"/>
<circle cx="1307.45" cy="1102.34" r="4.4" fill="#808080"/>
<circle cx="1316.05" cy="1102.69" r="4.4" fill="#808080"/>
<circle cx="1324.65" cy="1102.96" r="4.4" fill="#808080"/>
<circle cx="1333.25" cy="1103.18" r="4.4" fill="#808080"/>
<circle cx="1341.84" cy="1103.34" r="4.4" fill="#808080"/>
<circle cx="1350.44" cy="1103.48" r="4.4" fill="#808080"/>
<circle cx="1359.04" cy="1103.58" r="4.4" fill="#808080"/>
<circle cx="1367.64" cy="1103.66" r="4.4" fill="#808080"/>
<circle cx="1376.24" cy="1103.72" r="4.4" fill="#808080"/>
<circle cx="1384.83" cy="1103.77" r="4.4" fill="#808080"/>
<circle cx="1393.43" cy="1103.81" r="4.4" fill="#808080"/>
<circle cx="1402.03" cy="1103.84" r="4.4" fill="#808080"/>
<circle cx="1410.63" cy="1103.87" r="4.4" fill="#808080"/>
<circle cx="1419.23" cy="1103.89" r="4.4" fill="#808080"/>
<circle cx="1427.82" cy="1103.9" r="4.4" fill="#808080"/>
<circle cx="1436.42" cy="1103.92" r="4.4" fill="#808080"/>
<circle cx="1445.02" cy="1103.93" r="4.4" fill="#808080"/>
<circle cx="1453.62" cy="1103.94" r="4.4" fill="#808080"/>
<circle cx="1462.22" cy="1103.94" r="4.4" fill="#808080"/>
<circle cx="1470.81" cy="1103.95" r="4.4" fill="#808080"/>
<circle cx="1479.41" cy="1103.96" r="4.4" fill="#808080"/>
<circle cx="1488.01" cy="1103.96" r="4.4" fill="#808080"/>
<circle cx="1496.61" cy="1103.96" r="4.4" fill="#808080"/>
<circle cx="1505.21" cy="1103.97" r="4.4" fill="#808080"/>
<circle cx="1513.8" cy="1103.97" r="4.4" fill="#808080"/>
<circle cx="1522.4" cy="1103.98" r="4.4" fill="#808080"/>
<circle cx="1531" cy="1103.98" r="4.4" fill="#808080"/>
<circle cx="1539.6" cy="1103.98" r="4.4" fill="#808080"/>
<circle cx="1548.2" cy="1103.99" r="4.4" fill="#808080"/>
<circle cx="1556.79" cy="1103.99" r="4.4" fill="#808080"/>
<circle cx="1565.39" cy="1103.99" r="4.4" fill="#808080"/>
<circle cx="1573.99" cy="1103.99" r="4.4" fill="#808080"/>
<circle cx="1582.59" cy="1104" r="4.4" fill="#808080"/>
<circle cx="1591.19" cy="1104" r="4.4" fill="#808080"/>
<circle cx="1599.78" cy="1104" r="4.4" fill="#808080"/>
<circle cx="1608.38" cy="1104" r="4.4" fill="#808080"/>
<circle cx="1616.98" cy="1104.01" r="4.4" fill="#808080"/>
</g>
<text x="1216.6" y="1178.4" font-size="25.9" font-weight="bold">Temperature <tspan x="1378.8">[</tspan><tspan x="1383.8" y="1183.6" font-weight="200" font-size="31" style="font-family:'DejaVu Sans',sans-serif">&#176;</tspan><tspan x="1396.8" y="1178.2">C</tspan><tspan x="1415.6">]</tspan></text>
<text x="0" y="0" font-size="25.4" font-weight="bold" text-anchor="middle" transform="translate(968.8,887.5) rotate(-90)">Loss modulus [MPa]</text>
<rect x="1362.3" y="682.8" width="241.3" height="117.6" fill="#fff" stroke="#b4b4b4" stroke-width="1.4"/>
<line x1="1384.2" y1="700.8" x2="1436.9" y2="700.8" stroke="#ff2020" stroke-width="1.5" />
<rect x="1406.5" y="696.9" width="7.8" height="7.8" fill="#ff0000"/>
<text x="1443" y="708.9" font-size="23.4" font-weight="normal" text-anchor="start" fill="#000" >ICP1.5/epoxy</text>
<line x1="1384.2" y1="729.4" x2="1436.9" y2="729.4" stroke="#3030ff" stroke-width="1.5" />
<polygon points="1410.4,724.1 1405.54,733.25 1415.26,733.25" fill="#0000ff"/>
<text x="1443" y="737.5" font-size="23.4" font-weight="normal" text-anchor="start" fill="#000" >MSF1.5/epoxy</text>
<line x1="1384.2" y1="758.5" x2="1436.9" y2="758.5" stroke="#707070" stroke-width="1.5" />
<rect x="1406.5" y="754.6" width="7.8" height="7.8" fill="#000000"/>
<text x="1443" y="766.6" font-size="23.4" font-weight="normal" text-anchor="start" fill="#000" >P1.5/epoxy</text>
<line x1="1384.2" y1="787.6" x2="1436.9" y2="787.6" stroke="#c4c4c4" stroke-width="1.5" />
<circle cx="1410.4" cy="787.6" r="3.9" fill="#808080"/>
<text x="1443" y="795.7" font-size="23.4" font-weight="normal" text-anchor="start" fill="#000" >Neat epoxy</text>
</svg></body></html>
